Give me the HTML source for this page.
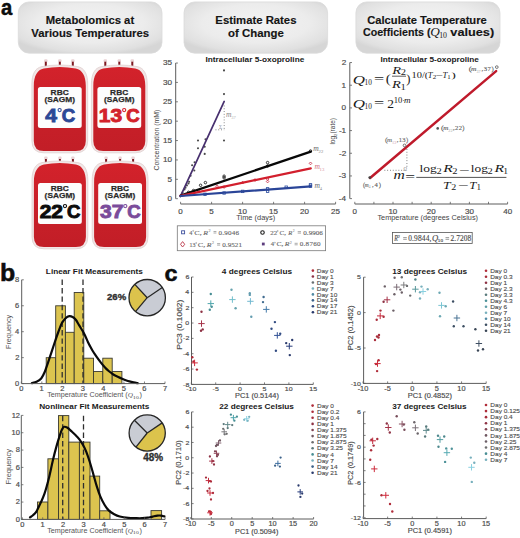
<!DOCTYPE html><html><head><meta charset="utf-8"><style>html,body{margin:0;padding:0;background:#fff;}svg{display:block;}</style></head><body>
<svg width="520" height="538" viewBox="0 0 520 538">
<defs>
<radialGradient id="hb" cx="50%" cy="42%" r="62%">
<stop offset="0" stop-color="#f3f3f3"/><stop offset="0.6" stop-color="#ececec"/><stop offset="0.9" stop-color="#e0e0e0"/><stop offset="1" stop-color="#d6d6d6"/>
</radialGradient>
<linearGradient id="bag" x1="0" y1="0" x2="0" y2="1">
<stop offset="0" stop-color="#d3222b"/><stop offset="0.45" stop-color="#ca2029"/><stop offset="1" stop-color="#c21e27"/>
</linearGradient>
</defs>
<rect width="520" height="538" fill="#fff"/>
<text x="0.99" y="15.48" textLength="11.23" lengthAdjust="spacingAndGlyphs" font-size="22.36" font-family='"Liberation Sans", sans-serif' font-weight="bold" font-style="normal" fill="#0d0d0d" stroke="#0d0d0d" stroke-width="0.5">a</text>
<text x="-0.12" y="280.97" textLength="15.24" lengthAdjust="spacingAndGlyphs" font-size="22.99" font-family='"Liberation Sans", sans-serif' font-weight="bold" font-style="normal" fill="#0d0d0d" stroke="#0d0d0d" stroke-width="0.5">b</text>
<text x="164.57" y="280.89" textLength="12.96" lengthAdjust="spacingAndGlyphs" font-size="21.45" font-family='"Liberation Sans", sans-serif' font-weight="bold" font-style="normal" fill="#0d0d0d" stroke="#0d0d0d" stroke-width="0.5">c</text>
<rect x="18.3" y="1.9" width="143.7" height="51.3" rx="11" ry="11" fill="url(#hb)" stroke="#dadada" stroke-width="0.8"/>
<rect x="184.0" y="1.9" width="143.60000000000002" height="51.3" rx="11" ry="11" fill="url(#hb)" stroke="#dadada" stroke-width="0.8"/>
<rect x="355.9" y="1.9" width="144.10000000000002" height="51.3" rx="11" ry="11" fill="url(#hb)" stroke="#dadada" stroke-width="0.8"/>
<text x="45.67" y="23.70" textLength="88.51" lengthAdjust="spacingAndGlyphs" font-size="11.40" font-family='"Liberation Sans", sans-serif' font-weight="bold" font-style="normal" fill="#151515" stroke="#151515" stroke-width="0.15">Metabolomics at</text>
<text x="31.34" y="36.90" textLength="117.71" lengthAdjust="spacingAndGlyphs" font-size="11.40" font-family='"Liberation Sans", sans-serif' font-weight="bold" font-style="normal" fill="#151515" stroke="#151515" stroke-width="0.15">Various Temperatures</text>
<text x="215.36" y="24.30" textLength="81.09" lengthAdjust="spacingAndGlyphs" font-size="11.40" font-family='"Liberation Sans", sans-serif' font-weight="bold" font-style="normal" fill="#151515" stroke="#151515" stroke-width="0.15">Estimate Rates</text>
<text x="228.04" y="36.90" textLength="55.74" lengthAdjust="spacingAndGlyphs" font-size="11.40" font-family='"Liberation Sans", sans-serif' font-weight="bold" font-style="normal" fill="#151515" stroke="#151515" stroke-width="0.15">of Change</text>
<text x="367.25" y="24.00" textLength="119.47" lengthAdjust="spacingAndGlyphs" font-size="11.40" font-family='"Liberation Sans", sans-serif' font-weight="bold" font-style="normal" fill="#151515" stroke="#151515" stroke-width="0.15">Calculate Temperature</text>
<text x="362.97" y="36.40" textLength="67.47" lengthAdjust="spacingAndGlyphs" font-size="11.40" font-family='"Liberation Sans", sans-serif' font-weight="bold" font-style="normal" fill="#151515" stroke="#151515" stroke-width="0.15">Coefficients (</text>
<text x="430.27" y="36.40" textLength="9.56" lengthAdjust="spacingAndGlyphs" font-size="12.40" font-family='"Liberation Serif", serif' font-weight="normal" font-style="italic" fill="#151515" >Q</text>
<text x="439.14" y="38.40" textLength="7.77" lengthAdjust="spacingAndGlyphs" font-size="8.20" font-family='"Liberation Serif", serif' font-weight="normal" font-style="normal" fill="#151515" >10</text>
<text x="450.34" y="36.40" textLength="43.85" lengthAdjust="spacingAndGlyphs" font-size="11.40" font-family='"Liberation Sans", sans-serif' font-weight="bold" font-style="normal" fill="#151515" stroke="#151515" stroke-width="0.15">values)</text>
<rect x="44.10" y="59.30" width="3.4" height="3" rx="1" fill="#e9d3d5"/>
<rect x="44.80" y="61.70" width="2" height="6.00" fill="#7e1820"/>
<rect x="58.10" y="59.30" width="3.4" height="3" rx="1" fill="#e9d3d5"/>
<rect x="58.80" y="61.70" width="2" height="6.00" fill="#7e1820"/>
<rect x="71.10" y="59.30" width="3.4" height="3" rx="1" fill="#e9d3d5"/>
<rect x="71.80" y="61.70" width="2" height="6.00" fill="#7e1820"/>
<path d="M31.90 84.00 C31.90 74.00 35.40 67.80 41.90 66.60 Q59.80 63.40 77.70 66.60 C84.20 67.80 87.70 74.00 87.70 84.00 L87.70 140.90 Q87.70 152.80 75.80 152.80 L43.80 152.80 Q31.90 152.80 31.90 140.90 Z" fill="#f1e6e6" stroke="#e0d0d0" stroke-width="0.8"/>
<path d="M33.80 85.90 C33.80 75.90 37.30 69.70 43.80 68.50 Q59.80 65.30 75.80 68.50 C82.30 69.70 85.80 75.90 85.80 85.90 L85.80 140.90 Q85.80 150.90 75.80 150.90 L43.80 150.90 Q33.80 150.90 33.80 140.90 Z" fill="url(#bag)"/>
<rect x="37.90" y="86.90" width="43.8" height="41.0" rx="2.5" fill="#fdfdfd"/>
<text x="50.63" y="95.20" textLength="18.02" lengthAdjust="spacingAndGlyphs" font-size="7.70" font-family='"Liberation Sans", sans-serif' font-weight="bold" font-style="normal" fill="#2a2a2a" stroke="#2a2a2a" stroke-width="0.25">RBC</text>
<text x="44.54" y="102.30" textLength="30.49" lengthAdjust="spacingAndGlyphs" font-size="7.70" font-family='"Liberation Sans", sans-serif' font-weight="bold" font-style="normal" fill="#2a2a2a" stroke="#2a2a2a" stroke-width="0.25">(SAGM)</text>
<text x="45.27" y="122.10" textLength="11.69" lengthAdjust="spacingAndGlyphs" font-size="18.60" font-family='"Liberation Sans", sans-serif' font-weight="bold" font-style="normal" fill="#2c4896" stroke="#2c4896" stroke-width="0.9">4</text>
<circle cx="59.63" cy="110.10" r="1.6" fill="none" stroke="#2c4896" stroke-width="1.1"/>
<text x="61.69" y="122.10" textLength="13.43" lengthAdjust="spacingAndGlyphs" font-size="18.60" font-family='"Liberation Sans", sans-serif' font-weight="bold" font-style="normal" fill="#2c4896" stroke="#2c4896" stroke-width="0.9">C</text>
<rect x="103.60" y="59.30" width="3.4" height="3" rx="1" fill="#e9d3d5"/>
<rect x="104.30" y="61.70" width="2" height="6.00" fill="#7e1820"/>
<rect x="117.60" y="59.30" width="3.4" height="3" rx="1" fill="#e9d3d5"/>
<rect x="118.30" y="61.70" width="2" height="6.00" fill="#7e1820"/>
<rect x="130.60" y="59.30" width="3.4" height="3" rx="1" fill="#e9d3d5"/>
<rect x="131.30" y="61.70" width="2" height="6.00" fill="#7e1820"/>
<path d="M91.40 84.00 C91.40 74.00 94.90 67.80 101.40 66.60 Q119.30 63.40 137.20 66.60 C143.70 67.80 147.20 74.00 147.20 84.00 L147.20 140.90 Q147.20 152.80 135.30 152.80 L103.30 152.80 Q91.40 152.80 91.40 140.90 Z" fill="#f1e6e6" stroke="#e0d0d0" stroke-width="0.8"/>
<path d="M93.30 85.90 C93.30 75.90 96.80 69.70 103.30 68.50 Q119.30 65.30 135.30 68.50 C141.80 69.70 145.30 75.90 145.30 85.90 L145.30 140.90 Q145.30 150.90 135.30 150.90 L103.30 150.90 Q93.30 150.90 93.30 140.90 Z" fill="url(#bag)"/>
<rect x="97.40" y="86.90" width="43.8" height="41.0" rx="2.5" fill="#fdfdfd"/>
<text x="110.13" y="95.20" textLength="18.02" lengthAdjust="spacingAndGlyphs" font-size="7.70" font-family='"Liberation Sans", sans-serif' font-weight="bold" font-style="normal" fill="#2a2a2a" stroke="#2a2a2a" stroke-width="0.25">RBC</text>
<text x="104.04" y="102.30" textLength="30.49" lengthAdjust="spacingAndGlyphs" font-size="7.70" font-family='"Liberation Sans", sans-serif' font-weight="bold" font-style="normal" fill="#2a2a2a" stroke="#2a2a2a" stroke-width="0.25">(SAGM)</text>
<text x="98.78" y="122.10" textLength="23.38" lengthAdjust="spacingAndGlyphs" font-size="18.60" font-family='"Liberation Sans", sans-serif' font-weight="bold" font-style="normal" fill="#d3222b" stroke="#d3222b" stroke-width="0.9">13</text>
<circle cx="124.18" cy="110.10" r="1.6" fill="none" stroke="#d3222b" stroke-width="1.1"/>
<text x="126.23" y="122.10" textLength="13.43" lengthAdjust="spacingAndGlyphs" font-size="18.60" font-family='"Liberation Sans", sans-serif' font-weight="bold" font-style="normal" fill="#d3222b" stroke="#d3222b" stroke-width="0.9">C</text>
<rect x="44.20" y="156.60" width="3.4" height="3" rx="1" fill="#e9d3d5"/>
<rect x="44.90" y="159.00" width="2" height="4.70" fill="#7e1820"/>
<rect x="58.20" y="156.60" width="3.4" height="3" rx="1" fill="#e9d3d5"/>
<rect x="58.90" y="159.00" width="2" height="4.70" fill="#7e1820"/>
<rect x="71.20" y="156.60" width="3.4" height="3" rx="1" fill="#e9d3d5"/>
<rect x="71.90" y="159.00" width="2" height="4.70" fill="#7e1820"/>
<path d="M32.00 180.00 C32.00 170.00 35.50 163.80 42.00 162.60 Q59.90 159.40 77.80 162.60 C84.30 163.80 87.80 170.00 87.80 180.00 L87.80 236.90 Q87.80 248.80 75.90 248.80 L43.90 248.80 Q32.00 248.80 32.00 236.90 Z" fill="#f1e6e6" stroke="#e0d0d0" stroke-width="0.8"/>
<path d="M33.90 181.90 C33.90 171.90 37.40 165.70 43.90 164.50 Q59.90 161.30 75.90 164.50 C82.40 165.70 85.90 171.90 85.90 181.90 L85.90 236.90 Q85.90 246.90 75.90 246.90 L43.90 246.90 Q33.90 246.90 33.90 236.90 Z" fill="url(#bag)"/>
<rect x="38.00" y="182.90" width="43.8" height="41.0" rx="2.5" fill="#fdfdfd"/>
<text x="50.73" y="191.20" textLength="18.02" lengthAdjust="spacingAndGlyphs" font-size="7.70" font-family='"Liberation Sans", sans-serif' font-weight="bold" font-style="normal" fill="#2a2a2a" stroke="#2a2a2a" stroke-width="0.25">RBC</text>
<text x="44.64" y="198.30" textLength="30.49" lengthAdjust="spacingAndGlyphs" font-size="7.70" font-family='"Liberation Sans", sans-serif' font-weight="bold" font-style="normal" fill="#2a2a2a" stroke="#2a2a2a" stroke-width="0.25">(SAGM)</text>
<text x="39.70" y="218.10" textLength="23.38" lengthAdjust="spacingAndGlyphs" font-size="18.60" font-family='"Liberation Sans", sans-serif' font-weight="bold" font-style="normal" fill="#0b0b0b" stroke="#0b0b0b" stroke-width="0.9">22</text>
<circle cx="64.99" cy="206.10" r="1.6" fill="none" stroke="#0b0b0b" stroke-width="1.1"/>
<text x="67.04" y="218.10" textLength="13.43" lengthAdjust="spacingAndGlyphs" font-size="18.60" font-family='"Liberation Sans", sans-serif' font-weight="bold" font-style="normal" fill="#0b0b0b" stroke="#0b0b0b" stroke-width="0.9">C</text>
<rect x="104.40" y="156.60" width="3.4" height="3" rx="1" fill="#e9d3d5"/>
<rect x="105.10" y="159.00" width="2" height="4.70" fill="#7e1820"/>
<rect x="118.40" y="156.60" width="3.4" height="3" rx="1" fill="#e9d3d5"/>
<rect x="119.10" y="159.00" width="2" height="4.70" fill="#7e1820"/>
<rect x="131.40" y="156.60" width="3.4" height="3" rx="1" fill="#e9d3d5"/>
<rect x="132.10" y="159.00" width="2" height="4.70" fill="#7e1820"/>
<path d="M92.20 180.00 C92.20 170.00 95.70 163.80 102.20 162.60 Q120.10 159.40 138.00 162.60 C144.50 163.80 148.00 170.00 148.00 180.00 L148.00 236.90 Q148.00 248.80 136.10 248.80 L104.10 248.80 Q92.20 248.80 92.20 236.90 Z" fill="#f1e6e6" stroke="#e0d0d0" stroke-width="0.8"/>
<path d="M94.10 181.90 C94.10 171.90 97.60 165.70 104.10 164.50 Q120.10 161.30 136.10 164.50 C142.60 165.70 146.10 171.90 146.10 181.90 L146.10 236.90 Q146.10 246.90 136.10 246.90 L104.10 246.90 Q94.10 246.90 94.10 236.90 Z" fill="url(#bag)"/>
<rect x="98.20" y="182.90" width="43.8" height="41.0" rx="2.5" fill="#fdfdfd"/>
<text x="110.93" y="191.20" textLength="18.02" lengthAdjust="spacingAndGlyphs" font-size="7.70" font-family='"Liberation Sans", sans-serif' font-weight="bold" font-style="normal" fill="#2a2a2a" stroke="#2a2a2a" stroke-width="0.25">RBC</text>
<text x="104.84" y="198.30" textLength="30.49" lengthAdjust="spacingAndGlyphs" font-size="7.70" font-family='"Liberation Sans", sans-serif' font-weight="bold" font-style="normal" fill="#2a2a2a" stroke="#2a2a2a" stroke-width="0.25">(SAGM)</text>
<text x="100.00" y="218.10" textLength="23.38" lengthAdjust="spacingAndGlyphs" font-size="18.60" font-family='"Liberation Sans", sans-serif' font-weight="bold" font-style="normal" fill="#7a4b9a" stroke="#7a4b9a" stroke-width="0.9">37</text>
<circle cx="125.29" cy="206.10" r="1.6" fill="none" stroke="#7a4b9a" stroke-width="1.1"/>
<text x="127.35" y="218.10" textLength="13.43" lengthAdjust="spacingAndGlyphs" font-size="18.60" font-family='"Liberation Sans", sans-serif' font-weight="bold" font-style="normal" fill="#7a4b9a" stroke="#7a4b9a" stroke-width="0.9">C</text>
<line x1="175.70" y1="63.04" x2="175.70" y2="198.70" stroke="#5c5c5c" stroke-width="1" />
<line x1="175.70" y1="198.70" x2="177.90" y2="198.70" stroke="#5c5c5c" stroke-width="0.8" />
<text x="167.55" y="201.15" textLength="4.54" lengthAdjust="spacingAndGlyphs" font-size="7.10" font-family='"Liberation Sans", sans-serif' font-weight="normal" font-style="normal" fill="#4e4e4e" stroke="#4e4e4e" stroke-width="0.18">0</text>
<line x1="175.70" y1="179.32" x2="177.90" y2="179.32" stroke="#5c5c5c" stroke-width="0.8" />
<text x="167.59" y="181.77" textLength="4.54" lengthAdjust="spacingAndGlyphs" font-size="7.10" font-family='"Liberation Sans", sans-serif' font-weight="normal" font-style="normal" fill="#4e4e4e" stroke="#4e4e4e" stroke-width="0.18">5</text>
<line x1="175.70" y1="159.94" x2="177.90" y2="159.94" stroke="#5c5c5c" stroke-width="0.8" />
<text x="163.02" y="162.39" textLength="9.08" lengthAdjust="spacingAndGlyphs" font-size="7.10" font-family='"Liberation Sans", sans-serif' font-weight="normal" font-style="normal" fill="#4e4e4e" stroke="#4e4e4e" stroke-width="0.18">10</text>
<line x1="175.70" y1="140.56" x2="177.90" y2="140.56" stroke="#5c5c5c" stroke-width="0.8" />
<text x="163.06" y="143.01" textLength="9.08" lengthAdjust="spacingAndGlyphs" font-size="7.10" font-family='"Liberation Sans", sans-serif' font-weight="normal" font-style="normal" fill="#4e4e4e" stroke="#4e4e4e" stroke-width="0.18">15</text>
<line x1="175.70" y1="121.18" x2="177.90" y2="121.18" stroke="#5c5c5c" stroke-width="0.8" />
<text x="163.02" y="123.63" textLength="9.08" lengthAdjust="spacingAndGlyphs" font-size="7.10" font-family='"Liberation Sans", sans-serif' font-weight="normal" font-style="normal" fill="#4e4e4e" stroke="#4e4e4e" stroke-width="0.18">20</text>
<line x1="175.70" y1="101.80" x2="177.90" y2="101.80" stroke="#5c5c5c" stroke-width="0.8" />
<text x="163.06" y="104.25" textLength="9.08" lengthAdjust="spacingAndGlyphs" font-size="7.10" font-family='"Liberation Sans", sans-serif' font-weight="normal" font-style="normal" fill="#4e4e4e" stroke="#4e4e4e" stroke-width="0.18">25</text>
<line x1="175.70" y1="82.42" x2="177.90" y2="82.42" stroke="#5c5c5c" stroke-width="0.8" />
<text x="163.02" y="84.87" textLength="9.08" lengthAdjust="spacingAndGlyphs" font-size="7.10" font-family='"Liberation Sans", sans-serif' font-weight="normal" font-style="normal" fill="#4e4e4e" stroke="#4e4e4e" stroke-width="0.18">30</text>
<line x1="175.70" y1="63.04" x2="177.90" y2="63.04" stroke="#5c5c5c" stroke-width="0.8" />
<text x="163.06" y="65.49" textLength="9.08" lengthAdjust="spacingAndGlyphs" font-size="7.10" font-family='"Liberation Sans", sans-serif' font-weight="normal" font-style="normal" fill="#4e4e4e" stroke="#4e4e4e" stroke-width="0.18">35</text>
<line x1="180.60" y1="204.00" x2="335.60" y2="204.00" stroke="#5c5c5c" stroke-width="1" />
<line x1="180.60" y1="204.00" x2="180.60" y2="201.80" stroke="#5c5c5c" stroke-width="0.8" />
<text x="178.36" y="214.00" textLength="4.45" lengthAdjust="spacingAndGlyphs" font-size="6.96" font-family='"Liberation Sans", sans-serif' font-weight="normal" font-style="normal" fill="#4e4e4e" stroke="#4e4e4e" stroke-width="0.18">0</text>
<line x1="211.60" y1="204.00" x2="211.60" y2="201.80" stroke="#5c5c5c" stroke-width="0.8" />
<text x="209.38" y="214.00" textLength="4.45" lengthAdjust="spacingAndGlyphs" font-size="6.96" font-family='"Liberation Sans", sans-serif' font-weight="normal" font-style="normal" fill="#4e4e4e" stroke="#4e4e4e" stroke-width="0.18">5</text>
<line x1="242.60" y1="204.00" x2="242.60" y2="201.80" stroke="#5c5c5c" stroke-width="0.8" />
<text x="238.00" y="214.00" textLength="8.90" lengthAdjust="spacingAndGlyphs" font-size="6.96" font-family='"Liberation Sans", sans-serif' font-weight="normal" font-style="normal" fill="#4e4e4e" stroke="#4e4e4e" stroke-width="0.18">10</text>
<line x1="273.60" y1="204.00" x2="273.60" y2="201.80" stroke="#5c5c5c" stroke-width="0.8" />
<text x="269.02" y="214.00" textLength="8.90" lengthAdjust="spacingAndGlyphs" font-size="6.96" font-family='"Liberation Sans", sans-serif' font-weight="normal" font-style="normal" fill="#4e4e4e" stroke="#4e4e4e" stroke-width="0.18">15</text>
<line x1="304.60" y1="204.00" x2="304.60" y2="201.80" stroke="#5c5c5c" stroke-width="0.8" />
<text x="300.10" y="214.00" textLength="8.90" lengthAdjust="spacingAndGlyphs" font-size="6.96" font-family='"Liberation Sans", sans-serif' font-weight="normal" font-style="normal" fill="#4e4e4e" stroke="#4e4e4e" stroke-width="0.18">20</text>
<line x1="335.60" y1="204.00" x2="335.60" y2="201.80" stroke="#5c5c5c" stroke-width="0.8" />
<text x="331.12" y="214.00" textLength="8.90" lengthAdjust="spacingAndGlyphs" font-size="6.96" font-family='"Liberation Sans", sans-serif' font-weight="normal" font-style="normal" fill="#4e4e4e" stroke="#4e4e4e" stroke-width="0.18">25</text>
<text x="236.25" y="219.80" textLength="38.90" lengthAdjust="spacingAndGlyphs" font-size="6.60" font-family='"Liberation Sans", sans-serif' font-weight="normal" font-style="normal" fill="#444" >Time (days)</text>
<text transform="translate(158.98,170.10) rotate(-90)" x="-0.34" y="0" textLength="60.66" lengthAdjust="spacingAndGlyphs" font-size="6.60" font-family='"Liberation Sans", sans-serif' font-weight="normal" font-style="normal" fill="#444" >Concentration (mM)</text>
<text x="205.46" y="62.20" textLength="98.85" lengthAdjust="spacingAndGlyphs" font-size="8.00" font-family='"Liberation Sans", sans-serif' font-weight="bold" font-style="normal" fill="#1a1a1a" >Intracellular 5-oxoproline</text>
<circle cx="198.00" cy="140.50" r="1.05" fill="#4a4a4a"/>
<circle cx="198.00" cy="148.20" r="1.05" fill="#4a4a4a"/>
<circle cx="205.50" cy="139.30" r="1.05" fill="#4a4a4a"/>
<circle cx="204.70" cy="146.70" r="1.05" fill="#4a4a4a"/>
<circle cx="204.70" cy="153.90" r="1.05" fill="#4a4a4a"/>
<circle cx="194.60" cy="162.30" r="1.05" fill="#4a4a4a"/>
<circle cx="192.10" cy="165.30" r="1.05" fill="#4a4a4a"/>
<circle cx="194.30" cy="170.50" r="1.05" fill="#4a4a4a"/>
<circle cx="190.60" cy="175.70" r="1.05" fill="#4a4a4a"/>
<circle cx="189.10" cy="181.70" r="1.05" fill="#4a4a4a"/>
<circle cx="186.90" cy="185.40" r="1.05" fill="#4a4a4a"/>
<circle cx="184.50" cy="189.50" r="1.05" fill="#4a4a4a"/>
<circle cx="182.50" cy="192.50" r="1.05" fill="#4a4a4a"/>
<circle cx="224.00" cy="70.40" r="1.05" fill="#4a4a4a"/>
<circle cx="224.00" cy="94.10" r="1.05" fill="#4a4a4a"/>
<circle cx="224.00" cy="140.50" r="1.05" fill="#4a4a4a"/>
<circle cx="185.50" cy="187.80" r="1.05" fill="#4a4a4a"/>
<circle cx="188.50" cy="183.50" r="1.05" fill="#4a4a4a"/>
<circle cx="200.6" cy="185.3" r="1.25" fill="none" stroke="#222" stroke-width="0.9"/>
<circle cx="205.4" cy="182.6" r="1.25" fill="none" stroke="#222" stroke-width="0.9"/>
<circle cx="224.1" cy="177.8" r="1.25" fill="none" stroke="#222" stroke-width="0.9"/>
<circle cx="224.1" cy="176.2" r="1.25" fill="none" stroke="#222" stroke-width="0.9"/>
<circle cx="267.6" cy="162.6" r="1.25" fill="none" stroke="#222" stroke-width="0.9"/>
<circle cx="267.6" cy="166.0" r="1.25" fill="none" stroke="#222" stroke-width="0.9"/>
<circle cx="310.5" cy="151.0" r="1.25" fill="none" stroke="#222" stroke-width="0.9"/>
<circle cx="193.5" cy="190.5" r="1.25" fill="none" stroke="#222" stroke-width="0.9"/>
<circle cx="188.5" cy="192.3" r="1.25" fill="none" stroke="#222" stroke-width="0.9"/>
<path d="M217.0 184.79999999999998L218.3 186.2L217.0 187.6L215.7 186.2Z" fill="none" stroke="#c8304a" stroke-width="0.85"/>
<path d="M224.1 185.6L225.4 187.0L224.1 188.4L222.79999999999998 187.0Z" fill="none" stroke="#c8304a" stroke-width="0.85"/>
<path d="M242.7 181.2L244.0 182.6L242.7 184.0L241.39999999999998 182.6Z" fill="none" stroke="#c8304a" stroke-width="0.85"/>
<path d="M267.6 180.1L268.90000000000003 181.5L267.6 182.9L266.3 181.5Z" fill="none" stroke="#c8304a" stroke-width="0.85"/>
<path d="M267.6 177.6L268.90000000000003 179.0L267.6 180.4L266.3 179.0Z" fill="none" stroke="#c8304a" stroke-width="0.85"/>
<path d="M310.5 162.0L311.8 163.4L310.5 164.8L309.2 163.4Z" fill="none" stroke="#c8304a" stroke-width="0.85"/>
<path d="M255.0 178.6L256.3 180.0L255.0 181.4L253.7 180.0Z" fill="none" stroke="#c8304a" stroke-width="0.85"/>
<path d="M198 189.1L199.3 190.5L198 191.9L196.7 190.5Z" fill="none" stroke="#c8304a" stroke-width="0.85"/>
<rect x="222.9" y="191.8" width="2.4" height="2.4" fill="none" stroke="#3050a0" stroke-width="0.85"/>
<rect x="241.5" y="190.20000000000002" width="2.4" height="2.4" fill="none" stroke="#3050a0" stroke-width="0.85"/>
<rect x="266.40000000000003" y="190.0" width="2.4" height="2.4" fill="none" stroke="#3050a0" stroke-width="0.85"/>
<rect x="266.40000000000003" y="187.60000000000002" width="2.4" height="2.4" fill="none" stroke="#3050a0" stroke-width="0.85"/>
<rect x="285.0" y="186.0" width="2.4" height="2.4" fill="none" stroke="#3050a0" stroke-width="0.85"/>
<rect x="309.3" y="185.0" width="2.4" height="2.4" fill="none" stroke="#3050a0" stroke-width="0.85"/>
<rect x="309.3" y="183.60000000000002" width="2.4" height="2.4" fill="none" stroke="#3050a0" stroke-width="0.85"/>
<rect x="203.8" y="193.10000000000002" width="2.4" height="2.4" fill="none" stroke="#3050a0" stroke-width="0.85"/>
<line x1="180.30" y1="196.60" x2="224.20" y2="101.40" stroke="#48306f" stroke-width="1.7" stroke-linecap="round"/>
<line x1="180.50" y1="195.60" x2="310.80" y2="151.60" stroke="#080808" stroke-width="2.3" stroke-linecap="round"/>
<line x1="180.50" y1="195.80" x2="310.80" y2="168.40" stroke="#d21f2d" stroke-width="2.2" stroke-linecap="round"/>
<line x1="180.50" y1="196.00" x2="310.80" y2="186.30" stroke="#2a4598" stroke-width="2.2" stroke-linecap="round"/>
<line x1="224.20" y1="105.50" x2="224.20" y2="130.00" stroke="#707070" stroke-width="0.9" stroke-dasharray="0.9,1.9"/>
<line x1="215.50" y1="129.80" x2="224.20" y2="129.80" stroke="#707070" stroke-width="0.9" stroke-dasharray="0.9,1.9"/>
<text x="225.93" y="116.60" textLength="5.49" lengthAdjust="spacingAndGlyphs" font-size="7.60" font-family='"Liberation Serif", serif' font-weight="normal" font-style="italic" fill="#8a8a8a" >m</text>
<text x="231.20" y="118.70" textLength="4.54" lengthAdjust="spacingAndGlyphs" font-size="4.60" font-family='"Liberation Serif", serif' font-weight="normal" font-style="normal" fill="#b0b0b0" >37</text>
<text x="219.0" y="129.0" font-size="5.50" font-family='"Liberation Serif", serif' font-weight="normal" font-style="normal" fill="#999" >Σ</text>
<text x="313.33" y="150.60" textLength="5.49" lengthAdjust="spacingAndGlyphs" font-size="7.60" font-family='"Liberation Serif", serif' font-weight="normal" font-style="italic" fill="#6a6a6a" >m</text>
<text x="318.59" y="152.70" textLength="4.67" lengthAdjust="spacingAndGlyphs" font-size="4.60" font-family='"Liberation Serif", serif' font-weight="normal" font-style="normal" fill="#8a8a8a" >22</text>
<text x="314.43" y="169.00" textLength="5.49" lengthAdjust="spacingAndGlyphs" font-size="7.60" font-family='"Liberation Serif", serif' font-weight="normal" font-style="italic" fill="#d27080" >m</text>
<text x="319.49" y="171.10" textLength="4.80" lengthAdjust="spacingAndGlyphs" font-size="4.60" font-family='"Liberation Serif", serif' font-weight="normal" font-style="normal" fill="#d890a0" >13</text>
<text x="314.43" y="187.60" textLength="5.49" lengthAdjust="spacingAndGlyphs" font-size="7.60" font-family='"Liberation Serif", serif' font-weight="normal" font-style="italic" fill="#6a6a6a" >m</text>
<text x="319.81" y="189.70" textLength="2.26" lengthAdjust="spacingAndGlyphs" font-size="4.60" font-family='"Liberation Serif", serif' font-weight="normal" font-style="normal" fill="#8a8a8a" >4</text>
<rect x="177.3" y="225.8" width="148.3" height="24.9" fill="#fff" stroke="#7a7a7a" stroke-width="0.8"/>
<rect x="181.6" y="230.8" width="3.0" height="3.0" fill="none" stroke="#3d4f9c" stroke-width="0.9"/>
<path d="M182.6 241.6L184.7 244.3L182.6 247.0L180.5 244.3Z" fill="none" stroke="#c24a5a" stroke-width="1.0"/>
<circle cx="262.5" cy="232.5" r="1.75" fill="none" stroke="#1a1a1a" stroke-width="1.1"/>
<rect x="261.9" y="242.6" width="2.8" height="2.8" fill="#5d3d7e"/>
<text x="189.18" y="234.60" textLength="3.12" lengthAdjust="spacingAndGlyphs" font-size="6.30" font-family='"Liberation Serif", serif' font-weight="normal" font-style="normal" fill="#666" stroke="#666" stroke-width="0.12">4</text>
<circle cx="193.20" cy="230.90" r="0.55" fill="none" stroke="#666" stroke-width="0.4"/>
<text x="194.38" y="234.60" textLength="7.36" lengthAdjust="spacingAndGlyphs" font-size="6.30" font-family='"Liberation Serif", serif' font-weight="normal" font-style="normal" fill="#666" stroke="#666" stroke-width="0.12">C,</text>
<text x="203.34" y="234.60" textLength="4.68" lengthAdjust="spacingAndGlyphs" font-size="6.30" font-family='"Liberation Serif", serif' font-weight="normal" font-style="italic" fill="#666" stroke="#666" stroke-width="0.12">R</text>
<text x="208.41" y="232.30" textLength="2.13" lengthAdjust="spacingAndGlyphs" font-size="4.00" font-family='"Liberation Serif", serif' font-weight="normal" font-style="normal" fill="#666" >2</text>
<line x1="213.50" y1="231.50" x2="216.40" y2="231.50" stroke="#666" stroke-width="0.55" />
<line x1="213.50" y1="233.00" x2="216.40" y2="233.00" stroke="#666" stroke-width="0.55" />
<text x="218.62" y="234.60" textLength="20.50" lengthAdjust="spacing" font-size="7.10" font-family='"Liberation Serif", serif' font-weight="normal" font-style="normal" fill="#666" stroke="#666" stroke-width="0.12">0.9046</text>
<text x="189.59" y="246.70" textLength="5.94" lengthAdjust="spacingAndGlyphs" font-size="6.30" font-family='"Liberation Serif", serif' font-weight="normal" font-style="normal" fill="#666" stroke="#666" stroke-width="0.12">13</text>
<circle cx="196.20" cy="243.00" r="0.55" fill="none" stroke="#666" stroke-width="0.4"/>
<text x="197.87" y="246.70" textLength="7.47" lengthAdjust="spacingAndGlyphs" font-size="6.30" font-family='"Liberation Serif", serif' font-weight="normal" font-style="normal" fill="#666" stroke="#666" stroke-width="0.12">C,</text>
<text x="206.74" y="246.70" textLength="4.68" lengthAdjust="spacingAndGlyphs" font-size="6.30" font-family='"Liberation Serif", serif' font-weight="normal" font-style="italic" fill="#666" stroke="#666" stroke-width="0.12">R</text>
<text x="211.92" y="244.40" textLength="2.00" lengthAdjust="spacingAndGlyphs" font-size="4.00" font-family='"Liberation Serif", serif' font-weight="normal" font-style="normal" fill="#666" >2</text>
<line x1="217.10" y1="243.60" x2="220.20" y2="243.60" stroke="#666" stroke-width="0.55" />
<line x1="217.10" y1="245.10" x2="220.20" y2="245.10" stroke="#666" stroke-width="0.55" />
<text x="222.22" y="246.70" textLength="19.71" lengthAdjust="spacing" font-size="7.10" font-family='"Liberation Serif", serif' font-weight="normal" font-style="normal" fill="#666" stroke="#666" stroke-width="0.12">0.9521</text>
<text x="270.19" y="234.70" textLength="6.89" lengthAdjust="spacingAndGlyphs" font-size="6.30" font-family='"Liberation Serif", serif' font-weight="normal" font-style="normal" fill="#666" stroke="#666" stroke-width="0.12">22</text>
<circle cx="277.70" cy="231.00" r="0.55" fill="none" stroke="#666" stroke-width="0.4"/>
<text x="279.52" y="234.70" textLength="6.45" lengthAdjust="spacingAndGlyphs" font-size="6.30" font-family='"Liberation Serif", serif' font-weight="normal" font-style="normal" fill="#666" stroke="#666" stroke-width="0.12">C,</text>
<text x="288.33" y="234.70" textLength="3.97" lengthAdjust="spacingAndGlyphs" font-size="6.30" font-family='"Liberation Serif", serif' font-weight="normal" font-style="italic" fill="#666" stroke="#666" stroke-width="0.12">R</text>
<text x="292.63" y="232.40" textLength="1.88" lengthAdjust="spacingAndGlyphs" font-size="4.00" font-family='"Liberation Serif", serif' font-weight="normal" font-style="normal" fill="#666" >2</text>
<line x1="297.70" y1="231.60" x2="301.00" y2="231.60" stroke="#666" stroke-width="0.55" />
<line x1="297.70" y1="233.10" x2="301.00" y2="233.10" stroke="#666" stroke-width="0.55" />
<text x="303.32" y="234.70" textLength="19.50" lengthAdjust="spacing" font-size="7.10" font-family='"Liberation Serif", serif' font-weight="normal" font-style="normal" fill="#666" stroke="#666" stroke-width="0.12">0.9906</text>
<text x="270.67" y="246.40" textLength="3.33" lengthAdjust="spacingAndGlyphs" font-size="6.30" font-family='"Liberation Serif", serif' font-weight="normal" font-style="normal" fill="#666" stroke="#666" stroke-width="0.12">4</text>
<circle cx="274.90" cy="242.70" r="0.55" fill="none" stroke="#666" stroke-width="0.4"/>
<text x="276.40" y="246.40" textLength="6.91" lengthAdjust="spacingAndGlyphs" font-size="6.30" font-family='"Liberation Serif", serif' font-weight="normal" font-style="normal" fill="#666" stroke="#666" stroke-width="0.12">C,</text>
<text x="284.74" y="246.40" textLength="4.58" lengthAdjust="spacingAndGlyphs" font-size="6.30" font-family='"Liberation Serif", serif' font-weight="normal" font-style="italic" fill="#666" stroke="#666" stroke-width="0.12">R</text>
<text x="289.72" y="244.10" textLength="2.00" lengthAdjust="spacingAndGlyphs" font-size="4.00" font-family='"Liberation Serif", serif' font-weight="normal" font-style="normal" fill="#666" >2</text>
<line x1="294.60" y1="243.30" x2="297.70" y2="243.30" stroke="#666" stroke-width="0.55" />
<line x1="294.60" y1="244.80" x2="297.70" y2="244.80" stroke="#666" stroke-width="0.55" />
<text x="299.82" y="246.40" textLength="20.67" lengthAdjust="spacing" font-size="7.10" font-family='"Liberation Serif", serif' font-weight="normal" font-style="normal" fill="#666" stroke="#666" stroke-width="0.12">0.8760</text>
<line x1="349.80" y1="62.54" x2="349.80" y2="198.62" stroke="#5c5c5c" stroke-width="1" />
<line x1="349.80" y1="198.62" x2="352.00" y2="198.62" stroke="#5c5c5c" stroke-width="0.8" />
<text x="338.78" y="201.07" textLength="7.26" lengthAdjust="spacingAndGlyphs" font-size="7.10" font-family='"Liberation Sans", sans-serif' font-weight="normal" font-style="normal" fill="#4e4e4e" stroke="#4e4e4e" stroke-width="0.18">-4</text>
<line x1="349.80" y1="175.94" x2="352.00" y2="175.94" stroke="#5c5c5c" stroke-width="0.8" />
<text x="338.86" y="178.39" textLength="7.26" lengthAdjust="spacingAndGlyphs" font-size="7.10" font-family='"Liberation Sans", sans-serif' font-weight="normal" font-style="normal" fill="#4e4e4e" stroke="#4e4e4e" stroke-width="0.18">-3</text>
<line x1="349.80" y1="153.26" x2="352.00" y2="153.26" stroke="#5c5c5c" stroke-width="0.8" />
<text x="338.94" y="155.71" textLength="7.26" lengthAdjust="spacingAndGlyphs" font-size="7.10" font-family='"Liberation Sans", sans-serif' font-weight="normal" font-style="normal" fill="#4e4e4e" stroke="#4e4e4e" stroke-width="0.18">-2</text>
<line x1="349.80" y1="130.58" x2="352.00" y2="130.58" stroke="#5c5c5c" stroke-width="0.8" />
<text x="338.90" y="133.03" textLength="7.26" lengthAdjust="spacingAndGlyphs" font-size="7.10" font-family='"Liberation Sans", sans-serif' font-weight="normal" font-style="normal" fill="#4e4e4e" stroke="#4e4e4e" stroke-width="0.18">-1</text>
<line x1="349.80" y1="107.90" x2="352.00" y2="107.90" stroke="#5c5c5c" stroke-width="0.8" />
<text x="341.55" y="110.35" textLength="4.54" lengthAdjust="spacingAndGlyphs" font-size="7.10" font-family='"Liberation Sans", sans-serif' font-weight="normal" font-style="normal" fill="#4e4e4e" stroke="#4e4e4e" stroke-width="0.18">0</text>
<line x1="349.80" y1="85.22" x2="352.00" y2="85.22" stroke="#5c5c5c" stroke-width="0.8" />
<text x="341.63" y="87.67" textLength="4.54" lengthAdjust="spacingAndGlyphs" font-size="7.10" font-family='"Liberation Sans", sans-serif' font-weight="normal" font-style="normal" fill="#4e4e4e" stroke="#4e4e4e" stroke-width="0.18">1</text>
<line x1="349.80" y1="62.54" x2="352.00" y2="62.54" stroke="#5c5c5c" stroke-width="0.8" />
<text x="341.68" y="64.99" textLength="4.54" lengthAdjust="spacingAndGlyphs" font-size="7.10" font-family='"Liberation Sans", sans-serif' font-weight="normal" font-style="normal" fill="#4e4e4e" stroke="#4e4e4e" stroke-width="0.18">2</text>
<line x1="354.80" y1="204.00" x2="507.60" y2="204.00" stroke="#5c5c5c" stroke-width="1" />
<line x1="354.80" y1="204.00" x2="354.80" y2="201.80" stroke="#5c5c5c" stroke-width="0.8" />
<line x1="373.90" y1="204.00" x2="373.90" y2="201.80" stroke="#5c5c5c" stroke-width="0.8" />
<line x1="393.00" y1="204.00" x2="393.00" y2="201.80" stroke="#5c5c5c" stroke-width="0.8" />
<line x1="412.10" y1="204.00" x2="412.10" y2="201.80" stroke="#5c5c5c" stroke-width="0.8" />
<line x1="431.20" y1="204.00" x2="431.20" y2="201.80" stroke="#5c5c5c" stroke-width="0.8" />
<line x1="450.30" y1="204.00" x2="450.30" y2="201.80" stroke="#5c5c5c" stroke-width="0.8" />
<line x1="469.40" y1="204.00" x2="469.40" y2="201.80" stroke="#5c5c5c" stroke-width="0.8" />
<line x1="488.50" y1="204.00" x2="488.50" y2="201.80" stroke="#5c5c5c" stroke-width="0.8" />
<line x1="507.60" y1="204.00" x2="507.60" y2="201.80" stroke="#5c5c5c" stroke-width="0.8" />
<text x="352.56" y="214.00" textLength="4.45" lengthAdjust="spacingAndGlyphs" font-size="6.96" font-family='"Liberation Sans", sans-serif' font-weight="normal" font-style="normal" fill="#4e4e4e" stroke="#4e4e4e" stroke-width="0.18">0</text>
<text x="388.40" y="214.00" textLength="8.90" lengthAdjust="spacingAndGlyphs" font-size="6.96" font-family='"Liberation Sans", sans-serif' font-weight="normal" font-style="normal" fill="#4e4e4e" stroke="#4e4e4e" stroke-width="0.18">10</text>
<text x="426.70" y="214.00" textLength="8.90" lengthAdjust="spacingAndGlyphs" font-size="6.96" font-family='"Liberation Sans", sans-serif' font-weight="normal" font-style="normal" fill="#4e4e4e" stroke="#4e4e4e" stroke-width="0.18">20</text>
<text x="464.94" y="214.00" textLength="8.90" lengthAdjust="spacingAndGlyphs" font-size="6.96" font-family='"Liberation Sans", sans-serif' font-weight="normal" font-style="normal" fill="#4e4e4e" stroke="#4e4e4e" stroke-width="0.18">30</text>
<text x="503.22" y="214.00" textLength="8.90" lengthAdjust="spacingAndGlyphs" font-size="6.96" font-family='"Liberation Sans", sans-serif' font-weight="normal" font-style="normal" fill="#4e4e4e" stroke="#4e4e4e" stroke-width="0.18">40</text>
<text x="377.45" y="219.90" textLength="100.61" lengthAdjust="spacingAndGlyphs" font-size="6.60" font-family='"Liberation Sans", sans-serif' font-weight="normal" font-style="normal" fill="#444" >Temperature (degrees Celsius)</text>
<text transform="translate(335.3,144.6) rotate(-90)" font-size="6.50" font-family='"Liberation Sans", sans-serif' font-weight="normal" font-style="normal" fill="#444" >log<tspan font-size="4.2" dy="1.6">2</tspan><tspan dy="-1.6">(rate)</tspan></text>
<text x="380.46" y="62.20" textLength="98.44" lengthAdjust="spacingAndGlyphs" font-size="8.00" font-family='"Liberation Sans", sans-serif' font-weight="bold" font-style="normal" fill="#1a1a1a" >Intracellular 5-oxoproline</text>
<line x1="370.08" y1="177.98" x2="496.14" y2="71.16" stroke="#bf1a2b" stroke-width="2.5" stroke-linecap="round"/>
<circle cx="496.8" cy="67.1" r="1.35" fill="#fff" stroke="#555" stroke-width="0.8"/>
<circle cx="437.7" cy="128.4" r="1.3" fill="#555"/>
<circle cx="404.5" cy="145.4" r="1.35" fill="#fff" stroke="#555" stroke-width="0.8"/>
<circle cx="369.8" cy="177.6" r="1.4" fill="#444"/>
<line x1="406.90" y1="149.00" x2="406.90" y2="168.00" stroke="#6a6a6a" stroke-width="0.9" stroke-dasharray="0.9,1.9"/>
<line x1="384.40" y1="170.30" x2="402.50" y2="170.30" stroke="#6a6a6a" stroke-width="0.9" stroke-dasharray="0.9,1.9"/>
<text x="403.2" y="170.6" font-size="5.20" font-family='"Liberation Serif", serif' font-weight="normal" font-style="italic" fill="#888" >Ω</text>
<text x="468.72" y="71.30" textLength="2.84" lengthAdjust="spacingAndGlyphs" font-size="6.60" font-family='"Liberation Serif", serif' font-weight="normal" font-style="normal" fill="#585858" stroke="#585858" stroke-width="0.12">(</text>
<text x="471.02" y="71.30" textLength="5.42" lengthAdjust="spacingAndGlyphs" font-size="6.60" font-family='"Liberation Serif", serif' font-weight="normal" font-style="italic" fill="#585858" stroke="#585858" stroke-width="0.12">m</text>
<text x="476.42" y="72.90" textLength="4.11" lengthAdjust="spacingAndGlyphs" font-size="3.80" font-family='"Liberation Serif", serif' font-weight="normal" font-style="normal" fill="#a0a0a0" >37</text>
<text x="481.42" y="71.30" textLength="12.16" lengthAdjust="spacing" font-size="6.60" font-family='"Liberation Serif", serif' font-weight="normal" font-style="normal" fill="#585858" stroke="#585858" stroke-width="0.12">,37)</text>
<text x="441.14" y="129.90" textLength="2.67" lengthAdjust="spacingAndGlyphs" font-size="6.60" font-family='"Liberation Serif", serif' font-weight="normal" font-style="normal" fill="#585858" stroke="#585858" stroke-width="0.12">(</text>
<text x="443.30" y="129.90" textLength="5.08" lengthAdjust="spacingAndGlyphs" font-size="6.60" font-family='"Liberation Serif", serif' font-weight="normal" font-style="italic" fill="#585858" stroke="#585858" stroke-width="0.12">m</text>
<text x="448.35" y="131.50" textLength="4.22" lengthAdjust="spacingAndGlyphs" font-size="3.80" font-family='"Liberation Serif", serif' font-weight="normal" font-style="normal" fill="#a0a0a0" >22</text>
<text x="453.04" y="129.90" textLength="11.44" lengthAdjust="spacing" font-size="6.60" font-family='"Liberation Serif", serif' font-weight="normal" font-style="normal" fill="#585858" stroke="#585858" stroke-width="0.12">,22)</text>
<text x="384.94" y="142.00" textLength="2.64" lengthAdjust="spacingAndGlyphs" font-size="6.60" font-family='"Liberation Serif", serif' font-weight="normal" font-style="normal" fill="#6a6a6a" stroke="#6a6a6a" stroke-width="0.12">(</text>
<text x="387.08" y="142.00" textLength="5.04" lengthAdjust="spacingAndGlyphs" font-size="6.60" font-family='"Liberation Serif", serif' font-weight="normal" font-style="italic" fill="#6a6a6a" stroke="#6a6a6a" stroke-width="0.12">m</text>
<text x="391.91" y="143.60" textLength="4.34" lengthAdjust="spacingAndGlyphs" font-size="3.80" font-family='"Liberation Serif", serif' font-weight="normal" font-style="normal" fill="#d0a0b0" >13</text>
<text x="396.74" y="142.00" textLength="11.35" lengthAdjust="spacing" font-size="6.60" font-family='"Liberation Serif", serif' font-weight="normal" font-style="normal" fill="#6a6a6a" stroke="#6a6a6a" stroke-width="0.12">,13)</text>
<text x="363.03" y="186.80" textLength="2.03" lengthAdjust="spacingAndGlyphs" font-size="6.60" font-family='"Liberation Serif", serif' font-weight="normal" font-style="normal" fill="#585858" stroke="#585858" stroke-width="0.12">(</text>
<text x="364.67" y="186.80" textLength="3.87" lengthAdjust="spacingAndGlyphs" font-size="6.60" font-family='"Liberation Serif", serif' font-weight="normal" font-style="italic" fill="#585858" stroke="#585858" stroke-width="0.12">m</text>
<text x="368.58" y="188.40" textLength="2.04" lengthAdjust="spacingAndGlyphs" font-size="3.80" font-family='"Liberation Serif", serif' font-weight="normal" font-style="normal" fill="#a0a0a0" >4</text>
<text x="372.03" y="186.80" textLength="8.85" lengthAdjust="spacing" font-size="6.60" font-family='"Liberation Serif", serif' font-weight="normal" font-style="normal" fill="#585858" stroke="#585858" stroke-width="0.12">,4)</text>
<text x="352.87" y="83.60" textLength="12.22" lengthAdjust="spacingAndGlyphs" font-size="13.40" font-family='"Liberation Serif", serif' font-weight="normal" font-style="italic" fill="#1a1a1a" >Q</text>
<text x="364.58" y="84.90" textLength="7.31" lengthAdjust="spacingAndGlyphs" font-size="8.80" font-family='"Liberation Serif", serif' font-weight="normal" font-style="normal" fill="#1a1a1a" >10</text>
<text x="374.10" y="83.00" textLength="10.19" lengthAdjust="spacingAndGlyphs" font-size="13.00" font-family='"Liberation Serif", serif' font-weight="normal" font-style="normal" fill="#1a1a1a" >=</text>
<text x="352.87" y="107.50" textLength="12.22" lengthAdjust="spacingAndGlyphs" font-size="13.40" font-family='"Liberation Serif", serif' font-weight="normal" font-style="italic" fill="#1a1a1a" >Q</text>
<text x="364.58" y="108.80" textLength="7.31" lengthAdjust="spacingAndGlyphs" font-size="8.80" font-family='"Liberation Serif", serif' font-weight="normal" font-style="normal" fill="#1a1a1a" >10</text>
<text x="374.10" y="106.90" textLength="10.19" lengthAdjust="spacingAndGlyphs" font-size="13.00" font-family='"Liberation Serif", serif' font-weight="normal" font-style="normal" fill="#1a1a1a" >=</text>
<text x="385.73" y="83.10" textLength="4.96" lengthAdjust="spacingAndGlyphs" font-size="13.00" font-family='"Liberation Serif", serif' font-weight="normal" font-style="normal" fill="#1a1a1a" >(</text>
<text x="392.37" y="73.60" textLength="8.86" lengthAdjust="spacingAndGlyphs" font-size="11.00" font-family='"Liberation Serif", serif' font-weight="normal" font-style="italic" fill="#1a1a1a" >R</text>
<text x="400.73" y="75.00" textLength="5.25" lengthAdjust="spacingAndGlyphs" font-size="7.60" font-family='"Liberation Serif", serif' font-weight="normal" font-style="normal" fill="#1a1a1a" >2</text>
<line x1="392.00" y1="76.20" x2="406.00" y2="76.20" stroke="#1a1a1a" stroke-width="0.7" />
<text x="391.97" y="88.40" textLength="8.86" lengthAdjust="spacingAndGlyphs" font-size="11.00" font-family='"Liberation Serif", serif' font-weight="normal" font-style="italic" fill="#1a1a1a" >R</text>
<text x="400.49" y="89.80" textLength="5.35" lengthAdjust="spacingAndGlyphs" font-size="7.60" font-family='"Liberation Serif", serif' font-weight="normal" font-style="normal" fill="#1a1a1a" >1</text>
<text x="406.32" y="83.10" textLength="4.23" lengthAdjust="spacingAndGlyphs" font-size="13.00" font-family='"Liberation Serif", serif' font-weight="normal" font-style="normal" fill="#1a1a1a" >)</text>
<text x="411.51" y="77.80" textLength="16.81" lengthAdjust="spacingAndGlyphs" font-size="8.40" font-family='"Liberation Serif", serif' font-weight="normal" font-style="normal" fill="#1a1a1a" >10/(</text>
<text x="427.83" y="77.80" textLength="4.85" lengthAdjust="spacingAndGlyphs" font-size="8.40" font-family='"Liberation Serif", serif' font-weight="normal" font-style="italic" fill="#1a1a1a" >T</text>
<text x="432.88" y="78.80" textLength="3.50" lengthAdjust="spacingAndGlyphs" font-size="5.80" font-family='"Liberation Serif", serif' font-weight="normal" font-style="normal" fill="#1a1a1a" >2</text>
<text x="435.95" y="78.00" textLength="7.28" lengthAdjust="spacingAndGlyphs" font-size="8.40" font-family='"Liberation Serif", serif' font-weight="normal" font-style="normal" fill="#1a1a1a" >−</text>
<text x="442.43" y="77.80" textLength="4.85" lengthAdjust="spacingAndGlyphs" font-size="8.40" font-family='"Liberation Serif", serif' font-weight="normal" font-style="italic" fill="#1a1a1a" >T</text>
<text x="447.23" y="78.80" textLength="3.38" lengthAdjust="spacingAndGlyphs" font-size="5.80" font-family='"Liberation Serif", serif' font-weight="normal" font-style="normal" fill="#1a1a1a" >1</text>
<text x="451.18" y="77.80" textLength="4.61" lengthAdjust="spacingAndGlyphs" font-size="8.40" font-family='"Liberation Serif", serif' font-weight="normal" font-style="normal" fill="#1a1a1a" >)</text>
<text x="387.39" y="107.50" textLength="6.75" lengthAdjust="spacingAndGlyphs" font-size="13.00" font-family='"Liberation Serif", serif' font-weight="normal" font-style="normal" fill="#1a1a1a" >2</text>
<text x="393.67" y="102.80" textLength="11.46" lengthAdjust="spacingAndGlyphs" font-size="8.40" font-family='"Liberation Serif", serif' font-weight="normal" font-style="normal" fill="#1a1a1a" >10·</text>
<text x="404.08" y="102.80" textLength="6.61" lengthAdjust="spacingAndGlyphs" font-size="8.40" font-family='"Liberation Serif", serif' font-weight="normal" font-style="italic" fill="#1a1a1a" >m</text>
<text x="393.55" y="179.00" textLength="11.31" lengthAdjust="spacingAndGlyphs" font-size="13.00" font-family='"Liberation Serif", serif' font-weight="normal" font-style="italic" fill="#1a1a1a" >m</text>
<text x="405.33" y="181.40" textLength="9.82" lengthAdjust="spacingAndGlyphs" font-size="13.00" font-family='"Liberation Serif", serif' font-weight="normal" font-style="normal" fill="#1a1a1a" >=</text>
<line x1="416.30" y1="177.40" x2="506.40" y2="177.40" stroke="#1a1a1a" stroke-width="0.75" />
<text x="419.63" y="172.30" textLength="17.21" lengthAdjust="spacingAndGlyphs" font-size="11.20" font-family='"Liberation Serif", serif' font-weight="normal" font-style="normal" fill="#1a1a1a" >log</text>
<text x="436.53" y="174.30" textLength="5.25" lengthAdjust="spacingAndGlyphs" font-size="7.60" font-family='"Liberation Serif", serif' font-weight="normal" font-style="normal" fill="#1a1a1a" >2</text>
<text x="443.28" y="172.30" textLength="9.57" lengthAdjust="spacingAndGlyphs" font-size="11.20" font-family='"Liberation Serif", serif' font-weight="normal" font-style="italic" fill="#1a1a1a" >R</text>
<text x="452.33" y="174.30" textLength="5.25" lengthAdjust="spacingAndGlyphs" font-size="7.60" font-family='"Liberation Serif", serif' font-weight="normal" font-style="normal" fill="#1a1a1a" >2</text>
<text x="458.85" y="173.60" textLength="10.67" lengthAdjust="spacingAndGlyphs" font-size="11.20" font-family='"Liberation Serif", serif' font-weight="normal" font-style="normal" fill="#1a1a1a" >−</text>
<text x="470.73" y="172.30" textLength="17.11" lengthAdjust="spacingAndGlyphs" font-size="11.20" font-family='"Liberation Serif", serif' font-weight="normal" font-style="normal" fill="#1a1a1a" >log</text>
<text x="487.53" y="174.30" textLength="5.25" lengthAdjust="spacingAndGlyphs" font-size="7.60" font-family='"Liberation Serif", serif' font-weight="normal" font-style="normal" fill="#1a1a1a" >2</text>
<text x="494.48" y="172.30" textLength="9.57" lengthAdjust="spacingAndGlyphs" font-size="11.20" font-family='"Liberation Serif", serif' font-weight="normal" font-style="italic" fill="#1a1a1a" >R</text>
<text x="503.19" y="174.30" textLength="4.79" lengthAdjust="spacingAndGlyphs" font-size="7.60" font-family='"Liberation Serif", serif' font-weight="normal" font-style="normal" fill="#1a1a1a" >1</text>
<text x="443.01" y="188.70" textLength="7.58" lengthAdjust="spacingAndGlyphs" font-size="11.20" font-family='"Liberation Serif", serif' font-weight="normal" font-style="italic" fill="#1a1a1a" >T</text>
<text x="451.15" y="190.40" textLength="5.00" lengthAdjust="spacingAndGlyphs" font-size="7.60" font-family='"Liberation Serif", serif' font-weight="normal" font-style="normal" fill="#1a1a1a" >2</text>
<text x="457.65" y="188.70" textLength="10.67" lengthAdjust="spacingAndGlyphs" font-size="11.20" font-family='"Liberation Serif", serif' font-weight="normal" font-style="normal" fill="#1a1a1a" >−</text>
<text x="469.17" y="188.70" textLength="7.08" lengthAdjust="spacingAndGlyphs" font-size="11.20" font-family='"Liberation Serif", serif' font-weight="normal" font-style="italic" fill="#1a1a1a" >T</text>
<text x="476.43" y="190.40" textLength="4.51" lengthAdjust="spacingAndGlyphs" font-size="7.60" font-family='"Liberation Serif", serif' font-weight="normal" font-style="normal" fill="#1a1a1a" >1</text>
<rect x="392.4" y="232.4" width="79.8" height="11.0" fill="#fff" stroke="#555" stroke-width="0.8"/>
<text x="394.13" y="240.90" textLength="3.56" lengthAdjust="spacingAndGlyphs" font-size="7.20" font-family='"Liberation Serif", serif' font-weight="normal" font-style="italic" fill="#484848" stroke="#484848" stroke-width="0.12">R</text>
<text x="397.57" y="238.20" textLength="2.50" lengthAdjust="spacingAndGlyphs" font-size="4.40" font-family='"Liberation Serif", serif' font-weight="normal" font-style="normal" fill="#484848" stroke="#484848" stroke-width="0.12">2</text>
<text x="408.20" y="240.90" textLength="23.28" lengthAdjust="spacing" font-size="7.40" font-family='"Liberation Serif", serif' font-weight="normal" font-style="normal" fill="#484848" stroke="#484848" stroke-width="0.12">0.9844,</text>
<text x="431.93" y="240.90" textLength="6.22" lengthAdjust="spacingAndGlyphs" font-size="8.80" font-family='"Liberation Serif", serif' font-weight="normal" font-style="italic" fill="#484848" stroke="#484848" stroke-width="0.12">Q</text>
<text x="437.86" y="242.20" textLength="5.14" lengthAdjust="spacingAndGlyphs" font-size="5.00" font-family='"Liberation Serif", serif' font-weight="normal" font-style="normal" fill="#484848" stroke="#484848" stroke-width="0.12">10</text>
<text x="450.47" y="240.90" textLength="20.83" lengthAdjust="spacing" font-size="7.40" font-family='"Liberation Serif", serif' font-weight="normal" font-style="normal" fill="#484848" stroke="#484848" stroke-width="0.12">2.7208</text>
<line x1="403.20" y1="237.60" x2="406.80" y2="237.60" stroke="#555" stroke-width="0.6" />
<line x1="403.20" y1="239.30" x2="406.80" y2="239.30" stroke="#555" stroke-width="0.6" />
<line x1="445.50" y1="237.60" x2="449.10" y2="237.60" stroke="#555" stroke-width="0.6" />
<line x1="445.50" y1="239.30" x2="449.10" y2="239.30" stroke="#555" stroke-width="0.6" />
<rect x="46.20" y="357.70" width="9.50" height="25.90" fill="#dcc44f" stroke="#3a3a30" stroke-width="0.9"/>
<rect x="55.70" y="305.80" width="9.70" height="77.80" fill="#dcc44f" stroke="#3a3a30" stroke-width="0.9"/>
<rect x="65.40" y="332.30" width="8.80" height="51.30" fill="#dcc44f" stroke="#3a3a30" stroke-width="0.9"/>
<rect x="74.20" y="292.50" width="9.60" height="91.10" fill="#dcc44f" stroke="#3a3a30" stroke-width="0.9"/>
<rect x="83.80" y="358.20" width="9.70" height="25.40" fill="#dcc44f" stroke="#3a3a30" stroke-width="0.9"/>
<rect x="93.50" y="371.50" width="9.30" height="12.10" fill="#dcc44f" stroke="#3a3a30" stroke-width="0.9"/>
<rect x="102.80" y="358.20" width="9.40" height="25.40" fill="#dcc44f" stroke="#3a3a30" stroke-width="0.9"/>
<rect x="112.20" y="371.50" width="9.70" height="12.10" fill="#dcc44f" stroke="#3a3a30" stroke-width="0.9"/>
<line x1="62.20" y1="279.60" x2="62.20" y2="383.60" stroke="#2e2e2e" stroke-width="1.3" stroke-dasharray="5.4,3.0"/>
<line x1="83.00" y1="279.60" x2="83.00" y2="383.60" stroke="#2e2e2e" stroke-width="1.3" stroke-dasharray="5.4,3.0"/>
<path d="M31.90 383.10 C32.67 382.88 34.95 382.57 36.50 381.80 C38.05 381.03 39.82 380.17 41.20 378.50 C42.58 376.83 43.65 374.50 44.80 371.80 C45.95 369.10 46.97 365.63 48.10 362.30 C49.23 358.97 50.45 355.27 51.60 351.80 C52.75 348.33 53.85 344.88 55.00 341.50 C56.15 338.12 57.35 334.57 58.50 331.50 C59.65 328.43 60.72 325.32 61.90 323.10 C63.08 320.88 64.37 319.35 65.60 318.20 C66.83 317.05 68.13 316.40 69.30 316.20 C70.47 316.00 71.52 316.40 72.60 317.00 C73.68 317.60 74.70 318.40 75.80 319.80 C76.90 321.20 77.93 323.32 79.20 325.40 C80.47 327.48 82.32 330.37 83.40 332.30 C84.48 334.23 84.95 335.38 85.70 337.00 C86.45 338.62 87.17 340.45 87.90 342.00 C88.63 343.55 89.37 344.93 90.10 346.30 C90.83 347.67 91.43 348.77 92.30 350.20 C93.17 351.63 94.30 353.42 95.30 354.90 C96.30 356.38 97.37 357.82 98.30 359.10 C99.23 360.38 100.03 361.48 100.90 362.60 C101.77 363.72 102.63 364.80 103.50 365.80 C104.37 366.80 105.23 367.73 106.10 368.60 C106.97 369.47 107.78 370.23 108.70 371.00 C109.62 371.77 110.62 372.50 111.60 373.20 C112.58 373.90 113.48 374.55 114.60 375.20 C115.72 375.85 117.05 376.50 118.30 377.10 C119.55 377.70 120.85 378.28 122.10 378.80 C123.35 379.32 124.57 379.77 125.80 380.20 C127.03 380.63 128.20 381.03 129.50 381.40 C130.80 381.77 132.23 382.10 133.60 382.40 C134.97 382.70 137.02 383.07 137.70 383.20" fill="none" stroke="#0a0a0a" stroke-width="2.2" stroke-linecap="round"/>
<line x1="21.70" y1="279.80" x2="21.70" y2="383.60" stroke="#5c5c5c" stroke-width="1" />
<line x1="21.70" y1="383.60" x2="165.01" y2="383.60" stroke="#5c5c5c" stroke-width="1" />
<line x1="21.70" y1="383.60" x2="23.80" y2="383.60" stroke="#5c5c5c" stroke-width="0.8" />
<text x="15.10" y="385.85" textLength="4.17" lengthAdjust="spacingAndGlyphs" font-size="6.52" font-family='"Liberation Sans", sans-serif' font-weight="normal" font-style="normal" fill="#4e4e4e" stroke="#4e4e4e" stroke-width="0.18">0</text>
<line x1="21.70" y1="357.65" x2="23.80" y2="357.65" stroke="#5c5c5c" stroke-width="0.8" />
<text x="15.21" y="359.90" textLength="4.17" lengthAdjust="spacingAndGlyphs" font-size="6.52" font-family='"Liberation Sans", sans-serif' font-weight="normal" font-style="normal" fill="#4e4e4e" stroke="#4e4e4e" stroke-width="0.18">2</text>
<line x1="21.70" y1="331.70" x2="23.80" y2="331.70" stroke="#5c5c5c" stroke-width="0.8" />
<text x="15.06" y="333.95" textLength="4.17" lengthAdjust="spacingAndGlyphs" font-size="6.52" font-family='"Liberation Sans", sans-serif' font-weight="normal" font-style="normal" fill="#4e4e4e" stroke="#4e4e4e" stroke-width="0.18">4</text>
<line x1="21.70" y1="305.75" x2="23.80" y2="305.75" stroke="#5c5c5c" stroke-width="0.8" />
<text x="15.14" y="308.00" textLength="4.17" lengthAdjust="spacingAndGlyphs" font-size="6.52" font-family='"Liberation Sans", sans-serif' font-weight="normal" font-style="normal" fill="#4e4e4e" stroke="#4e4e4e" stroke-width="0.18">6</text>
<line x1="21.70" y1="279.80" x2="23.80" y2="279.80" stroke="#5c5c5c" stroke-width="0.8" />
<text x="15.14" y="282.05" textLength="4.17" lengthAdjust="spacingAndGlyphs" font-size="6.52" font-family='"Liberation Sans", sans-serif' font-weight="normal" font-style="normal" fill="#4e4e4e" stroke="#4e4e4e" stroke-width="0.18">8</text>
<line x1="21.30" y1="383.60" x2="21.30" y2="381.50" stroke="#5c5c5c" stroke-width="0.8" />
<text x="19.20" y="391.10" textLength="4.17" lengthAdjust="spacingAndGlyphs" font-size="6.52" font-family='"Liberation Sans", sans-serif' font-weight="normal" font-style="normal" fill="#4e4e4e" stroke="#4e4e4e" stroke-width="0.18">0</text>
<line x1="41.83" y1="383.60" x2="41.83" y2="381.50" stroke="#5c5c5c" stroke-width="0.8" />
<text x="39.64" y="391.10" textLength="4.17" lengthAdjust="spacingAndGlyphs" font-size="6.52" font-family='"Liberation Sans", sans-serif' font-weight="normal" font-style="normal" fill="#4e4e4e" stroke="#4e4e4e" stroke-width="0.18">1</text>
<line x1="62.36" y1="383.60" x2="62.36" y2="381.50" stroke="#5c5c5c" stroke-width="0.8" />
<text x="60.28" y="391.10" textLength="4.17" lengthAdjust="spacingAndGlyphs" font-size="6.52" font-family='"Liberation Sans", sans-serif' font-weight="normal" font-style="normal" fill="#4e4e4e" stroke="#4e4e4e" stroke-width="0.18">2</text>
<line x1="82.89" y1="383.60" x2="82.89" y2="381.50" stroke="#5c5c5c" stroke-width="0.8" />
<text x="80.81" y="391.10" textLength="4.17" lengthAdjust="spacingAndGlyphs" font-size="6.52" font-family='"Liberation Sans", sans-serif' font-weight="normal" font-style="normal" fill="#4e4e4e" stroke="#4e4e4e" stroke-width="0.18">3</text>
<line x1="103.42" y1="383.60" x2="103.42" y2="381.50" stroke="#5c5c5c" stroke-width="0.8" />
<text x="101.38" y="391.10" textLength="4.17" lengthAdjust="spacingAndGlyphs" font-size="6.52" font-family='"Liberation Sans", sans-serif' font-weight="normal" font-style="normal" fill="#4e4e4e" stroke="#4e4e4e" stroke-width="0.18">4</text>
<line x1="123.95" y1="383.60" x2="123.95" y2="381.50" stroke="#5c5c5c" stroke-width="0.8" />
<text x="121.87" y="391.10" textLength="4.17" lengthAdjust="spacingAndGlyphs" font-size="6.52" font-family='"Liberation Sans", sans-serif' font-weight="normal" font-style="normal" fill="#4e4e4e" stroke="#4e4e4e" stroke-width="0.18">5</text>
<line x1="144.48" y1="383.60" x2="144.48" y2="381.50" stroke="#5c5c5c" stroke-width="0.8" />
<text x="142.36" y="391.10" textLength="4.17" lengthAdjust="spacingAndGlyphs" font-size="6.52" font-family='"Liberation Sans", sans-serif' font-weight="normal" font-style="normal" fill="#4e4e4e" stroke="#4e4e4e" stroke-width="0.18">6</text>
<line x1="165.01" y1="383.60" x2="165.01" y2="381.50" stroke="#5c5c5c" stroke-width="0.8" />
<text x="162.93" y="391.10" textLength="4.17" lengthAdjust="spacingAndGlyphs" font-size="6.52" font-family='"Liberation Sans", sans-serif' font-weight="normal" font-style="normal" fill="#4e4e4e" stroke="#4e4e4e" stroke-width="0.18">7</text>
<text x="45.86" y="274.20" textLength="96.98" lengthAdjust="spacingAndGlyphs" font-size="8.00" font-family='"Liberation Sans", sans-serif' font-weight="bold" font-style="normal" fill="#1a1a1a" >Linear Fit Measurements</text>
<text transform="translate(10.81,348.40) rotate(-90)" x="-0.58" y="0" textLength="34.18" lengthAdjust="spacingAndGlyphs" font-size="6.40" font-family='"Liberation Sans", sans-serif' font-weight="normal" font-style="normal" fill="#555" >Frequency</text>
<text x="47.16" y="397.40" textLength="80.51" lengthAdjust="spacingAndGlyphs" font-size="6.40" font-family='"Liberation Sans", sans-serif' font-weight="normal" font-style="normal" fill="#555" >Temperature Coefficient (</text>
<text x="127.80" y="397.40" textLength="5.22" lengthAdjust="spacingAndGlyphs" font-size="6.80" font-family='"Liberation Serif", serif' font-weight="normal" font-style="italic" fill="#555" >Q</text>
<text x="132.68" y="398.60" textLength="6.17" lengthAdjust="spacingAndGlyphs" font-size="4.40" font-family='"Liberation Serif", serif' font-weight="normal" font-style="normal" fill="#555" >10</text>
<text x="139.56" y="397.40" textLength="2.51" lengthAdjust="spacingAndGlyphs" font-size="6.40" font-family='"Liberation Sans", sans-serif' font-weight="normal" font-style="normal" fill="#555" >)</text>
<rect x="37.50" y="502.00" width="10.40" height="17.40" fill="#dcc44f" stroke="#3a3a30" stroke-width="0.9"/>
<rect x="47.90" y="458.80" width="10.60" height="60.60" fill="#dcc44f" stroke="#3a3a30" stroke-width="0.9"/>
<rect x="58.50" y="415.60" width="10.30" height="103.80" fill="#dcc44f" stroke="#3a3a30" stroke-width="0.9"/>
<rect x="68.80" y="442.10" width="10.60" height="77.30" fill="#dcc44f" stroke="#3a3a30" stroke-width="0.9"/>
<rect x="79.40" y="442.10" width="10.60" height="77.30" fill="#dcc44f" stroke="#3a3a30" stroke-width="0.9"/>
<rect x="90.00" y="476.10" width="9.70" height="43.30" fill="#dcc44f" stroke="#3a3a30" stroke-width="0.9"/>
<rect x="99.70" y="510.80" width="10.30" height="8.60" fill="#dcc44f" stroke="#3a3a30" stroke-width="0.9"/>
<rect x="151.00" y="510.60" width="10.60" height="8.80" fill="#dcc44f" stroke="#3a3a30" stroke-width="0.9"/>
<line x1="62.70" y1="415.80" x2="62.70" y2="519.40" stroke="#2e2e2e" stroke-width="1.3" stroke-dasharray="5.4,3.0"/>
<line x1="83.50" y1="415.80" x2="83.50" y2="519.40" stroke="#2e2e2e" stroke-width="1.3" stroke-dasharray="5.4,3.0"/>
<path d="M30.00 517.40 C30.50 517.03 31.97 516.13 33.00 515.20 C34.03 514.27 35.00 513.70 36.20 511.80 C37.40 509.90 38.82 506.82 40.20 503.80 C41.58 500.78 43.07 497.92 44.50 493.70 C45.93 489.48 47.40 484.08 48.80 478.50 C50.20 472.92 51.63 465.52 52.90 460.20 C54.17 454.88 55.23 450.78 56.40 446.60 C57.57 442.42 58.97 437.93 59.90 435.10 C60.83 432.27 61.32 430.98 62.00 429.60 C62.68 428.22 63.08 427.10 64.00 426.80 C64.92 426.50 66.33 427.12 67.50 427.80 C68.67 428.48 69.72 429.73 71.00 430.90 C72.28 432.07 73.80 433.40 75.20 434.80 C76.60 436.20 78.12 437.63 79.40 439.30 C80.68 440.97 81.75 442.72 82.90 444.80 C84.05 446.88 85.15 448.93 86.30 451.80 C87.45 454.67 88.63 458.28 89.80 462.00 C90.97 465.72 92.13 470.03 93.30 474.10 C94.47 478.17 95.63 482.68 96.80 486.40 C97.97 490.12 99.02 493.33 100.30 496.40 C101.58 499.47 103.10 502.47 104.50 504.80 C105.90 507.13 107.08 508.83 108.70 510.40 C110.32 511.97 112.35 513.18 114.20 514.20 C116.05 515.22 117.47 515.88 119.80 516.50 C122.13 517.12 125.42 517.62 128.20 517.90 C130.98 518.18 134.18 518.15 136.50 518.20 C138.82 518.25 140.23 518.28 142.10 518.20 C143.97 518.12 145.95 517.97 147.70 517.70 C149.45 517.43 150.97 516.95 152.60 516.60 C154.23 516.25 156.10 515.77 157.50 515.60 C158.90 515.43 159.85 515.47 161.00 515.60 C162.15 515.73 163.83 516.27 164.40 516.40" fill="none" stroke="#0a0a0a" stroke-width="2.2" stroke-linecap="round"/>
<line x1="21.30" y1="415.40" x2="21.30" y2="519.40" stroke="#5c5c5c" stroke-width="1" />
<line x1="21.30" y1="519.40" x2="165.10" y2="519.40" stroke="#5c5c5c" stroke-width="1" />
<line x1="21.30" y1="519.40" x2="23.40" y2="519.40" stroke="#5c5c5c" stroke-width="0.8" />
<text x="15.70" y="521.65" textLength="4.17" lengthAdjust="spacingAndGlyphs" font-size="6.52" font-family='"Liberation Sans", sans-serif' font-weight="normal" font-style="normal" fill="#4e4e4e" stroke="#4e4e4e" stroke-width="0.18">0</text>
<line x1="21.30" y1="502.07" x2="23.40" y2="502.07" stroke="#5c5c5c" stroke-width="0.8" />
<text x="15.81" y="504.32" textLength="4.17" lengthAdjust="spacingAndGlyphs" font-size="6.52" font-family='"Liberation Sans", sans-serif' font-weight="normal" font-style="normal" fill="#4e4e4e" stroke="#4e4e4e" stroke-width="0.18">2</text>
<line x1="21.30" y1="484.73" x2="23.40" y2="484.73" stroke="#5c5c5c" stroke-width="0.8" />
<text x="15.66" y="486.98" textLength="4.17" lengthAdjust="spacingAndGlyphs" font-size="6.52" font-family='"Liberation Sans", sans-serif' font-weight="normal" font-style="normal" fill="#4e4e4e" stroke="#4e4e4e" stroke-width="0.18">4</text>
<line x1="21.30" y1="467.40" x2="23.40" y2="467.40" stroke="#5c5c5c" stroke-width="0.8" />
<text x="15.74" y="469.65" textLength="4.17" lengthAdjust="spacingAndGlyphs" font-size="6.52" font-family='"Liberation Sans", sans-serif' font-weight="normal" font-style="normal" fill="#4e4e4e" stroke="#4e4e4e" stroke-width="0.18">6</text>
<line x1="21.30" y1="450.07" x2="23.40" y2="450.07" stroke="#5c5c5c" stroke-width="0.8" />
<text x="15.74" y="452.32" textLength="4.17" lengthAdjust="spacingAndGlyphs" font-size="6.52" font-family='"Liberation Sans", sans-serif' font-weight="normal" font-style="normal" fill="#4e4e4e" stroke="#4e4e4e" stroke-width="0.18">8</text>
<line x1="21.30" y1="432.73" x2="23.40" y2="432.73" stroke="#5c5c5c" stroke-width="0.8" />
<text x="11.54" y="434.98" textLength="8.34" lengthAdjust="spacingAndGlyphs" font-size="6.52" font-family='"Liberation Sans", sans-serif' font-weight="normal" font-style="normal" fill="#4e4e4e" stroke="#4e4e4e" stroke-width="0.18">10</text>
<line x1="21.30" y1="415.40" x2="23.40" y2="415.40" stroke="#5c5c5c" stroke-width="0.8" />
<text x="11.65" y="417.65" textLength="8.34" lengthAdjust="spacingAndGlyphs" font-size="6.52" font-family='"Liberation Sans", sans-serif' font-weight="normal" font-style="normal" fill="#4e4e4e" stroke="#4e4e4e" stroke-width="0.18">12</text>
<line x1="22.30" y1="519.40" x2="22.30" y2="517.30" stroke="#5c5c5c" stroke-width="0.8" />
<text x="20.20" y="526.90" textLength="4.17" lengthAdjust="spacingAndGlyphs" font-size="6.52" font-family='"Liberation Sans", sans-serif' font-weight="normal" font-style="normal" fill="#4e4e4e" stroke="#4e4e4e" stroke-width="0.18">0</text>
<line x1="42.70" y1="519.40" x2="42.70" y2="517.30" stroke="#5c5c5c" stroke-width="0.8" />
<text x="40.51" y="526.90" textLength="4.17" lengthAdjust="spacingAndGlyphs" font-size="6.52" font-family='"Liberation Sans", sans-serif' font-weight="normal" font-style="normal" fill="#4e4e4e" stroke="#4e4e4e" stroke-width="0.18">1</text>
<line x1="63.10" y1="519.40" x2="63.10" y2="517.30" stroke="#5c5c5c" stroke-width="0.8" />
<text x="61.02" y="526.90" textLength="4.17" lengthAdjust="spacingAndGlyphs" font-size="6.52" font-family='"Liberation Sans", sans-serif' font-weight="normal" font-style="normal" fill="#4e4e4e" stroke="#4e4e4e" stroke-width="0.18">2</text>
<line x1="83.50" y1="519.40" x2="83.50" y2="517.30" stroke="#5c5c5c" stroke-width="0.8" />
<text x="81.42" y="526.90" textLength="4.17" lengthAdjust="spacingAndGlyphs" font-size="6.52" font-family='"Liberation Sans", sans-serif' font-weight="normal" font-style="normal" fill="#4e4e4e" stroke="#4e4e4e" stroke-width="0.18">3</text>
<line x1="103.90" y1="519.40" x2="103.90" y2="517.30" stroke="#5c5c5c" stroke-width="0.8" />
<text x="101.86" y="526.90" textLength="4.17" lengthAdjust="spacingAndGlyphs" font-size="6.52" font-family='"Liberation Sans", sans-serif' font-weight="normal" font-style="normal" fill="#4e4e4e" stroke="#4e4e4e" stroke-width="0.18">4</text>
<line x1="124.30" y1="519.40" x2="124.30" y2="517.30" stroke="#5c5c5c" stroke-width="0.8" />
<text x="122.22" y="526.90" textLength="4.17" lengthAdjust="spacingAndGlyphs" font-size="6.52" font-family='"Liberation Sans", sans-serif' font-weight="normal" font-style="normal" fill="#4e4e4e" stroke="#4e4e4e" stroke-width="0.18">5</text>
<line x1="144.70" y1="519.40" x2="144.70" y2="517.30" stroke="#5c5c5c" stroke-width="0.8" />
<text x="142.58" y="526.90" textLength="4.17" lengthAdjust="spacingAndGlyphs" font-size="6.52" font-family='"Liberation Sans", sans-serif' font-weight="normal" font-style="normal" fill="#4e4e4e" stroke="#4e4e4e" stroke-width="0.18">6</text>
<line x1="165.10" y1="519.40" x2="165.10" y2="517.30" stroke="#5c5c5c" stroke-width="0.8" />
<text x="163.02" y="526.90" textLength="4.17" lengthAdjust="spacingAndGlyphs" font-size="6.52" font-family='"Liberation Sans", sans-serif' font-weight="normal" font-style="normal" fill="#4e4e4e" stroke="#4e4e4e" stroke-width="0.18">7</text>
<text x="39.16" y="409.10" textLength="110.28" lengthAdjust="spacingAndGlyphs" font-size="8.00" font-family='"Liberation Sans", sans-serif' font-weight="bold" font-style="normal" fill="#1a1a1a" >Nonlinear Fit Measurements</text>
<text transform="translate(10.51,483.80) rotate(-90)" x="-0.60" y="0" textLength="35.40" lengthAdjust="spacingAndGlyphs" font-size="6.40" font-family='"Liberation Sans", sans-serif' font-weight="normal" font-style="normal" fill="#555" >Frequency</text>
<text x="47.16" y="532.90" textLength="80.51" lengthAdjust="spacingAndGlyphs" font-size="6.40" font-family='"Liberation Sans", sans-serif' font-weight="normal" font-style="normal" fill="#555" >Temperature Coefficient (</text>
<text x="127.80" y="532.90" textLength="5.22" lengthAdjust="spacingAndGlyphs" font-size="6.80" font-family='"Liberation Serif", serif' font-weight="normal" font-style="italic" fill="#555" >Q</text>
<text x="132.68" y="534.10" textLength="6.17" lengthAdjust="spacingAndGlyphs" font-size="4.40" font-family='"Liberation Serif", serif' font-weight="normal" font-style="normal" fill="#555" >10</text>
<text x="139.56" y="532.90" textLength="2.51" lengthAdjust="spacingAndGlyphs" font-size="6.40" font-family='"Liberation Sans", sans-serif' font-weight="normal" font-style="normal" fill="#555" >)</text>
<circle cx="147.2" cy="297.7" r="18.2" fill="#c9ccd4"/>
<path d="M147.2 297.7 L135.50 311.64 A18.2 18.2 0 0 1 134.79 284.39 Z" fill="#dcc34c"/>
<line x1="147.20" y1="297.70" x2="135.50" y2="311.64" stroke="#262626" stroke-width="1.25" />
<line x1="147.20" y1="297.70" x2="134.79" y2="284.39" stroke="#262626" stroke-width="1.25" />
<line x1="147.20" y1="297.70" x2="162.29" y2="287.52" stroke="#262626" stroke-width="1.25" />
<circle cx="147.2" cy="297.7" r="18.2" fill="none" stroke="#262626" stroke-width="1.3"/>
<text x="107.07" y="299.50" textLength="19.09" lengthAdjust="spacingAndGlyphs" font-size="9.20" font-family='"Liberation Sans", sans-serif' font-weight="bold" font-style="normal" fill="#303030" stroke="#303030" stroke-width="0.35">26%</text>
<circle cx="147.2" cy="433.0" r="18.1" fill="#c9ccd4"/>
<path d="M147.2 433.0 L162.21 422.88 A18.1 18.1 0 0 1 135.93 447.17 Z" fill="#dcc34c"/>
<line x1="147.20" y1="433.00" x2="162.21" y2="422.88" stroke="#262626" stroke-width="1.25" />
<line x1="147.20" y1="433.00" x2="135.93" y2="447.17" stroke="#262626" stroke-width="1.25" />
<line x1="147.20" y1="433.00" x2="134.40" y2="420.20" stroke="#262626" stroke-width="1.25" />
<circle cx="147.2" cy="433.0" r="18.1" fill="none" stroke="#262626" stroke-width="1.3"/>
<text x="143.35" y="461.40" textLength="19.81" lengthAdjust="spacingAndGlyphs" font-size="10.20" font-family='"Liberation Sans", sans-serif' font-weight="bold" font-style="normal" fill="#303030" stroke="#303030" stroke-width="0.35">48%</text>
<line x1="191.50" y1="277.00" x2="191.50" y2="384.40" stroke="#5c5c5c" stroke-width="1" />
<line x1="191.30" y1="384.40" x2="313.30" y2="384.40" stroke="#5c5c5c" stroke-width="1" />
<line x1="191.50" y1="277.00" x2="193.50" y2="277.00" stroke="#5c5c5c" stroke-width="0.8" />
<text x="185.40" y="279.10" textLength="3.89" lengthAdjust="spacingAndGlyphs" font-size="6.09" font-family='"Liberation Sans", sans-serif' font-weight="normal" font-style="normal" fill="#4e4e4e" stroke="#4e4e4e" stroke-width="0.18">6</text>
<line x1="191.50" y1="292.34" x2="193.50" y2="292.34" stroke="#5c5c5c" stroke-width="0.8" />
<text x="185.33" y="294.44" textLength="3.89" lengthAdjust="spacingAndGlyphs" font-size="6.09" font-family='"Liberation Sans", sans-serif' font-weight="normal" font-style="normal" fill="#4e4e4e" stroke="#4e4e4e" stroke-width="0.18">4</text>
<line x1="191.50" y1="307.69" x2="193.50" y2="307.69" stroke="#5c5c5c" stroke-width="0.8" />
<text x="185.47" y="309.79" textLength="3.89" lengthAdjust="spacingAndGlyphs" font-size="6.09" font-family='"Liberation Sans", sans-serif' font-weight="normal" font-style="normal" fill="#4e4e4e" stroke="#4e4e4e" stroke-width="0.18">2</text>
<line x1="191.50" y1="323.03" x2="193.50" y2="323.03" stroke="#5c5c5c" stroke-width="0.8" />
<text x="185.36" y="325.13" textLength="3.89" lengthAdjust="spacingAndGlyphs" font-size="6.09" font-family='"Liberation Sans", sans-serif' font-weight="normal" font-style="normal" fill="#4e4e4e" stroke="#4e4e4e" stroke-width="0.18">0</text>
<line x1="191.50" y1="338.37" x2="193.50" y2="338.37" stroke="#5c5c5c" stroke-width="0.8" />
<text x="183.12" y="340.47" textLength="6.22" lengthAdjust="spacingAndGlyphs" font-size="6.09" font-family='"Liberation Sans", sans-serif' font-weight="normal" font-style="normal" fill="#4e4e4e" stroke="#4e4e4e" stroke-width="0.18">-2</text>
<line x1="191.50" y1="353.71" x2="193.50" y2="353.71" stroke="#5c5c5c" stroke-width="0.8" />
<text x="182.98" y="355.81" textLength="6.22" lengthAdjust="spacingAndGlyphs" font-size="6.09" font-family='"Liberation Sans", sans-serif' font-weight="normal" font-style="normal" fill="#4e4e4e" stroke="#4e4e4e" stroke-width="0.18">-4</text>
<line x1="191.50" y1="369.06" x2="193.50" y2="369.06" stroke="#5c5c5c" stroke-width="0.8" />
<text x="183.05" y="371.16" textLength="6.22" lengthAdjust="spacingAndGlyphs" font-size="6.09" font-family='"Liberation Sans", sans-serif' font-weight="normal" font-style="normal" fill="#4e4e4e" stroke="#4e4e4e" stroke-width="0.18">-6</text>
<line x1="191.50" y1="384.40" x2="193.50" y2="384.40" stroke="#5c5c5c" stroke-width="0.8" />
<text x="183.05" y="386.50" textLength="6.22" lengthAdjust="spacingAndGlyphs" font-size="6.09" font-family='"Liberation Sans", sans-serif' font-weight="normal" font-style="normal" fill="#4e4e4e" stroke="#4e4e4e" stroke-width="0.18">-8</text>
<line x1="191.30" y1="384.40" x2="191.30" y2="382.40" stroke="#5c5c5c" stroke-width="0.8" />
<text x="186.21" y="391.30" textLength="10.12" lengthAdjust="spacingAndGlyphs" font-size="6.09" font-family='"Liberation Sans", sans-serif' font-weight="normal" font-style="normal" fill="#4e4e4e" stroke="#4e4e4e" stroke-width="0.18">-10</text>
<line x1="215.70" y1="384.40" x2="215.70" y2="382.40" stroke="#5c5c5c" stroke-width="0.8" />
<text x="212.57" y="391.30" textLength="6.22" lengthAdjust="spacingAndGlyphs" font-size="6.09" font-family='"Liberation Sans", sans-serif' font-weight="normal" font-style="normal" fill="#4e4e4e" stroke="#4e4e4e" stroke-width="0.18">-5</text>
<line x1="240.10" y1="384.40" x2="240.10" y2="382.40" stroke="#5c5c5c" stroke-width="0.8" />
<text x="238.14" y="391.30" textLength="3.89" lengthAdjust="spacingAndGlyphs" font-size="6.09" font-family='"Liberation Sans", sans-serif' font-weight="normal" font-style="normal" fill="#4e4e4e" stroke="#4e4e4e" stroke-width="0.18">0</text>
<line x1="264.50" y1="384.40" x2="264.50" y2="382.40" stroke="#5c5c5c" stroke-width="0.8" />
<text x="262.56" y="391.30" textLength="3.89" lengthAdjust="spacingAndGlyphs" font-size="6.09" font-family='"Liberation Sans", sans-serif' font-weight="normal" font-style="normal" fill="#4e4e4e" stroke="#4e4e4e" stroke-width="0.18">5</text>
<line x1="288.90" y1="384.40" x2="288.90" y2="382.40" stroke="#5c5c5c" stroke-width="0.8" />
<text x="284.88" y="391.30" textLength="7.79" lengthAdjust="spacingAndGlyphs" font-size="6.09" font-family='"Liberation Sans", sans-serif' font-weight="normal" font-style="normal" fill="#4e4e4e" stroke="#4e4e4e" stroke-width="0.18">10</text>
<line x1="313.30" y1="384.40" x2="313.30" y2="382.40" stroke="#5c5c5c" stroke-width="0.8" />
<text x="309.29" y="391.30" textLength="7.79" lengthAdjust="spacingAndGlyphs" font-size="6.09" font-family='"Liberation Sans", sans-serif' font-weight="normal" font-style="normal" fill="#4e4e4e" stroke="#4e4e4e" stroke-width="0.18">15</text>
<text x="221.88" y="274.10" textLength="70.15" lengthAdjust="spacingAndGlyphs" font-size="8.00" font-family='"Liberation Sans", sans-serif' font-weight="bold" font-style="normal" fill="#1a1a1a" >4 degrees Celsius</text>
<text x="235.11" y="398.30" textLength="43.75" lengthAdjust="spacingAndGlyphs" font-size="6.50" font-family='"Liberation Sans", sans-serif' font-weight="normal" font-style="normal" fill="#4a4a4a" stroke="#4a4a4a" stroke-width="0.15">PC1 (0.5144)</text>
<text transform="translate(181.74,349.00) rotate(-90)" x="-0.67" y="0" textLength="50.00" lengthAdjust="spacingAndGlyphs" font-size="6.50" font-family='"Liberation Sans", sans-serif' font-weight="normal" font-style="normal" fill="#4a4a4a" stroke="#4a4a4a" stroke-width="0.15">PC3 (0.1062)</text>
<circle cx="312.90" cy="270.60" r="1.3" fill="#b02d3a"/>
<text x="316.78" y="272.70" textLength="16.95" lengthAdjust="spacingAndGlyphs" font-size="5.90" font-family='"Liberation Sans", sans-serif' font-weight="normal" font-style="normal" fill="#4c4c4c" stroke="#4c4c4c" stroke-width="0.12">Day 0</text>
<circle cx="312.90" cy="276.55" r="1.3" fill="#8e3244"/>
<text x="316.78" y="278.65" textLength="16.95" lengthAdjust="spacingAndGlyphs" font-size="5.90" font-family='"Liberation Sans", sans-serif' font-weight="normal" font-style="normal" fill="#4c4c4c" stroke="#4c4c4c" stroke-width="0.12">Day 1</text>
<circle cx="312.90" cy="282.50" r="1.3" fill="#687072"/>
<text x="316.78" y="284.60" textLength="16.95" lengthAdjust="spacingAndGlyphs" font-size="5.90" font-family='"Liberation Sans", sans-serif' font-weight="normal" font-style="normal" fill="#4c4c4c" stroke="#4c4c4c" stroke-width="0.12">Day 3</text>
<circle cx="312.90" cy="288.45" r="1.3" fill="#78b0bd"/>
<text x="316.78" y="290.55" textLength="16.95" lengthAdjust="spacingAndGlyphs" font-size="5.90" font-family='"Liberation Sans", sans-serif' font-weight="normal" font-style="normal" fill="#4c4c4c" stroke="#4c4c4c" stroke-width="0.12">Day 7</text>
<circle cx="312.90" cy="294.40" r="1.3" fill="#508aa4"/>
<text x="316.78" y="296.50" textLength="20.56" lengthAdjust="spacingAndGlyphs" font-size="5.90" font-family='"Liberation Sans", sans-serif' font-weight="normal" font-style="normal" fill="#4c4c4c" stroke="#4c4c4c" stroke-width="0.12">Day 10</text>
<circle cx="312.90" cy="300.35" r="1.3" fill="#3c628a"/>
<text x="316.78" y="302.45" textLength="20.56" lengthAdjust="spacingAndGlyphs" font-size="5.90" font-family='"Liberation Sans", sans-serif' font-weight="normal" font-style="normal" fill="#4c4c4c" stroke="#4c4c4c" stroke-width="0.12">Day 14</text>
<circle cx="312.90" cy="306.30" r="1.3" fill="#324c82"/>
<text x="316.78" y="308.40" textLength="20.56" lengthAdjust="spacingAndGlyphs" font-size="5.90" font-family='"Liberation Sans", sans-serif' font-weight="normal" font-style="normal" fill="#4c4c4c" stroke="#4c4c4c" stroke-width="0.12">Day 17</text>
<circle cx="312.90" cy="312.25" r="1.3" fill="#2a3a6c"/>
<text x="316.78" y="314.35" textLength="20.56" lengthAdjust="spacingAndGlyphs" font-size="5.90" font-family='"Liberation Sans", sans-serif' font-weight="normal" font-style="normal" fill="#4c4c4c" stroke="#4c4c4c" stroke-width="0.12">Day 21</text>
<circle cx="192.30" cy="357.30" r="1.2" fill="#b02d3a"/>
<circle cx="196.90" cy="369.60" r="1.2" fill="#b02d3a"/>
<circle cx="193.50" cy="361.50" r="1.2" fill="#b02d3a"/>
<path d="M191.40 362.90H197.80M194.60 359.70V366.10" stroke="#d02c3c" stroke-width="1.0" fill="none"/>
<circle cx="201.50" cy="311.70" r="1.2" fill="#8e3244"/>
<circle cx="201.00" cy="330.70" r="1.2" fill="#8e3244"/>
<circle cx="202.70" cy="329.40" r="1.2" fill="#8e3244"/>
<path d="M198.30 323.60H204.70M201.50 320.40V326.80" stroke="#a53248" stroke-width="1.0" fill="none"/>
<circle cx="210.80" cy="294.00" r="1.2" fill="#488e94"/>
<circle cx="211.70" cy="306.80" r="1.2" fill="#488e94"/>
<circle cx="209.80" cy="309.80" r="1.2" fill="#488e94"/>
<path d="M207.60 303.60H214.00M210.80 300.40V306.80" stroke="#4ea5ac" stroke-width="1.0" fill="none"/>
<circle cx="231.50" cy="289.80" r="1.2" fill="#65a2ad"/>
<circle cx="235.60" cy="308.30" r="1.2" fill="#65a2ad"/>
<path d="M229.20 299.60H235.60M232.40 296.40V302.80" stroke="#72becb" stroke-width="1.0" fill="none"/>
<circle cx="249.80" cy="293.30" r="1.2" fill="#649db0"/>
<circle cx="249.80" cy="294.90" r="1.2" fill="#649db0"/>
<circle cx="251.30" cy="316.70" r="1.2" fill="#649db0"/>
<path d="M247.20 301.30H253.60M250.40 298.10V304.50" stroke="#71b8d0" stroke-width="1.0" fill="none"/>
<circle cx="263.60" cy="297.00" r="1.2" fill="#416c90"/>
<circle cx="263.00" cy="302.10" r="1.2" fill="#416c90"/>
<path d="M263.10 309.40H269.50M266.30 306.20V312.60" stroke="#447aa8" stroke-width="1.0" fill="none"/>
<circle cx="274.90" cy="322.10" r="1.2" fill="#324c82"/>
<circle cx="271.50" cy="328.70" r="1.2" fill="#324c82"/>
<circle cx="280.20" cy="333.70" r="1.2" fill="#324c82"/>
<circle cx="275.90" cy="350.80" r="1.2" fill="#324c82"/>
<path d="M274.10 335.40H280.50M277.30 332.20V338.60" stroke="#325296" stroke-width="1.0" fill="none"/>
<circle cx="292.20" cy="340.00" r="1.2" fill="#2a3a6c"/>
<circle cx="286.20" cy="343.10" r="1.2" fill="#2a3a6c"/>
<circle cx="289.80" cy="355.10" r="1.2" fill="#2a3a6c"/>
<path d="M286.10 346.20H292.50M289.30 343.00V349.40" stroke="#283c7a" stroke-width="1.0" fill="none"/>
<line x1="363.60" y1="277.20" x2="363.60" y2="383.40" stroke="#5c5c5c" stroke-width="1" />
<line x1="363.00" y1="383.40" x2="486.20" y2="383.40" stroke="#5c5c5c" stroke-width="1" />
<line x1="363.60" y1="277.20" x2="365.60" y2="277.20" stroke="#5c5c5c" stroke-width="0.8" />
<text x="357.00" y="279.30" textLength="3.89" lengthAdjust="spacingAndGlyphs" font-size="6.09" font-family='"Liberation Sans", sans-serif' font-weight="normal" font-style="normal" fill="#4e4e4e" stroke="#4e4e4e" stroke-width="0.18">5</text>
<line x1="363.60" y1="312.60" x2="365.60" y2="312.60" stroke="#5c5c5c" stroke-width="0.8" />
<text x="356.96" y="314.70" textLength="3.89" lengthAdjust="spacingAndGlyphs" font-size="6.09" font-family='"Liberation Sans", sans-serif' font-weight="normal" font-style="normal" fill="#4e4e4e" stroke="#4e4e4e" stroke-width="0.18">0</text>
<line x1="363.60" y1="348.00" x2="365.60" y2="348.00" stroke="#5c5c5c" stroke-width="0.8" />
<text x="354.65" y="350.10" textLength="6.22" lengthAdjust="spacingAndGlyphs" font-size="6.09" font-family='"Liberation Sans", sans-serif' font-weight="normal" font-style="normal" fill="#4e4e4e" stroke="#4e4e4e" stroke-width="0.18">-5</text>
<line x1="363.60" y1="383.40" x2="365.60" y2="383.40" stroke="#5c5c5c" stroke-width="0.8" />
<text x="350.73" y="385.50" textLength="10.12" lengthAdjust="spacingAndGlyphs" font-size="6.09" font-family='"Liberation Sans", sans-serif' font-weight="normal" font-style="normal" fill="#4e4e4e" stroke="#4e4e4e" stroke-width="0.18">-10</text>
<line x1="363.00" y1="383.40" x2="363.00" y2="381.40" stroke="#5c5c5c" stroke-width="0.8" />
<text x="357.66" y="391.30" textLength="10.60" lengthAdjust="spacingAndGlyphs" font-size="6.38" font-family='"Liberation Sans", sans-serif' font-weight="normal" font-style="normal" fill="#4e4e4e" stroke="#4e4e4e" stroke-width="0.18">-10</text>
<line x1="387.64" y1="383.40" x2="387.64" y2="381.40" stroke="#5c5c5c" stroke-width="0.8" />
<text x="384.36" y="391.30" textLength="6.52" lengthAdjust="spacingAndGlyphs" font-size="6.38" font-family='"Liberation Sans", sans-serif' font-weight="normal" font-style="normal" fill="#4e4e4e" stroke="#4e4e4e" stroke-width="0.18">-5</text>
<line x1="412.28" y1="383.40" x2="412.28" y2="381.40" stroke="#5c5c5c" stroke-width="0.8" />
<text x="410.23" y="391.30" textLength="4.08" lengthAdjust="spacingAndGlyphs" font-size="6.38" font-family='"Liberation Sans", sans-serif' font-weight="normal" font-style="normal" fill="#4e4e4e" stroke="#4e4e4e" stroke-width="0.18">0</text>
<line x1="436.92" y1="383.40" x2="436.92" y2="381.40" stroke="#5c5c5c" stroke-width="0.8" />
<text x="434.88" y="391.30" textLength="4.08" lengthAdjust="spacingAndGlyphs" font-size="6.38" font-family='"Liberation Sans", sans-serif' font-weight="normal" font-style="normal" fill="#4e4e4e" stroke="#4e4e4e" stroke-width="0.18">5</text>
<line x1="461.56" y1="383.40" x2="461.56" y2="381.40" stroke="#5c5c5c" stroke-width="0.8" />
<text x="457.34" y="391.30" textLength="8.16" lengthAdjust="spacingAndGlyphs" font-size="6.38" font-family='"Liberation Sans", sans-serif' font-weight="normal" font-style="normal" fill="#4e4e4e" stroke="#4e4e4e" stroke-width="0.18">10</text>
<line x1="486.20" y1="383.40" x2="486.20" y2="381.40" stroke="#5c5c5c" stroke-width="0.8" />
<text x="482.00" y="391.30" textLength="8.16" lengthAdjust="spacingAndGlyphs" font-size="6.38" font-family='"Liberation Sans", sans-serif' font-weight="normal" font-style="normal" fill="#4e4e4e" stroke="#4e4e4e" stroke-width="0.18">15</text>
<text x="392.20" y="274.10" textLength="74.83" lengthAdjust="spacingAndGlyphs" font-size="8.00" font-family='"Liberation Sans", sans-serif' font-weight="bold" font-style="normal" fill="#1a1a1a" >13 degrees Celsius</text>
<text x="407.70" y="398.10" textLength="44.26" lengthAdjust="spacingAndGlyphs" font-size="6.50" font-family='"Liberation Sans", sans-serif' font-weight="normal" font-style="normal" fill="#4a4a4a" stroke="#4a4a4a" stroke-width="0.15">PC1 (0.4852)</text>
<text transform="translate(352.94,349.70) rotate(-90)" x="-0.60" y="0" textLength="44.78" lengthAdjust="spacingAndGlyphs" font-size="6.50" font-family='"Liberation Sans", sans-serif' font-weight="normal" font-style="normal" fill="#4a4a4a" stroke="#4a4a4a" stroke-width="0.15">PC2 (0.1452)</text>
<circle cx="486.01" cy="270.70" r="1.3" fill="#b02d3a"/>
<text x="490.18" y="272.80" textLength="16.95" lengthAdjust="spacingAndGlyphs" font-size="5.90" font-family='"Liberation Sans", sans-serif' font-weight="normal" font-style="normal" fill="#4c4c4c" stroke="#4c4c4c" stroke-width="0.12">Day 0</text>
<circle cx="486.01" cy="276.70" r="1.3" fill="#a92d3b"/>
<text x="490.18" y="278.80" textLength="22.37" lengthAdjust="spacingAndGlyphs" font-size="5.90" font-family='"Liberation Sans", sans-serif' font-weight="normal" font-style="normal" fill="#4c4c4c" stroke="#4c4c4c" stroke-width="0.12">Day 0.3</text>
<circle cx="486.01" cy="282.70" r="1.3" fill="#8e3244"/>
<text x="490.18" y="284.80" textLength="16.95" lengthAdjust="spacingAndGlyphs" font-size="5.90" font-family='"Liberation Sans", sans-serif' font-weight="normal" font-style="normal" fill="#4c4c4c" stroke="#4c4c4c" stroke-width="0.12">Day 1</text>
<circle cx="486.01" cy="288.70" r="1.3" fill="#6c6067"/>
<text x="490.18" y="290.80" textLength="22.37" lengthAdjust="spacingAndGlyphs" font-size="5.90" font-family='"Liberation Sans", sans-serif' font-weight="normal" font-style="normal" fill="#4c4c4c" stroke="#4c4c4c" stroke-width="0.12">Day 2.3</text>
<circle cx="486.01" cy="294.70" r="1.3" fill="#587a7c"/>
<text x="490.18" y="296.80" textLength="22.37" lengthAdjust="spacingAndGlyphs" font-size="5.90" font-family='"Liberation Sans", sans-serif' font-weight="normal" font-style="normal" fill="#4c4c4c" stroke="#4c4c4c" stroke-width="0.12">Day 3.3</text>
<circle cx="486.01" cy="300.70" r="1.3" fill="#4c9197"/>
<text x="490.18" y="302.80" textLength="22.37" lengthAdjust="spacingAndGlyphs" font-size="5.90" font-family='"Liberation Sans", sans-serif' font-weight="normal" font-style="normal" fill="#4c4c4c" stroke="#4c4c4c" stroke-width="0.12">Day 4.3</text>
<circle cx="486.01" cy="306.70" r="1.3" fill="#609fa8"/>
<text x="490.18" y="308.80" textLength="16.95" lengthAdjust="spacingAndGlyphs" font-size="5.90" font-family='"Liberation Sans", sans-serif' font-weight="normal" font-style="normal" fill="#4c4c4c" stroke="#4c4c4c" stroke-width="0.12">Day 6</text>
<circle cx="486.01" cy="312.70" r="1.3" fill="#78b0bd"/>
<text x="490.18" y="314.80" textLength="16.95" lengthAdjust="spacingAndGlyphs" font-size="5.90" font-family='"Liberation Sans", sans-serif' font-weight="normal" font-style="normal" fill="#4c4c4c" stroke="#4c4c4c" stroke-width="0.12">Day 7</text>
<circle cx="486.01" cy="318.70" r="1.3" fill="#508aa4"/>
<text x="490.18" y="320.80" textLength="20.56" lengthAdjust="spacingAndGlyphs" font-size="5.90" font-family='"Liberation Sans", sans-serif' font-weight="normal" font-style="normal" fill="#4c4c4c" stroke="#4c4c4c" stroke-width="0.12">Day 10</text>
<circle cx="486.01" cy="324.70" r="1.3" fill="#3c4e62"/>
<text x="490.18" y="326.80" textLength="20.56" lengthAdjust="spacingAndGlyphs" font-size="5.90" font-family='"Liberation Sans", sans-serif' font-weight="normal" font-style="normal" fill="#4c4c4c" stroke="#4c4c4c" stroke-width="0.12">Day 14</text>
<circle cx="486.01" cy="330.70" r="1.3" fill="#3a4656"/>
<text x="490.18" y="332.80" textLength="20.56" lengthAdjust="spacingAndGlyphs" font-size="5.90" font-family='"Liberation Sans", sans-serif' font-weight="normal" font-style="normal" fill="#4c4c4c" stroke="#4c4c4c" stroke-width="0.12">Day 21</text>
<circle cx="378.60" cy="360.20" r="1.2" fill="#b02d3a"/>
<circle cx="377.10" cy="371.10" r="1.2" fill="#b02d3a"/>
<circle cx="376.00" cy="364.00" r="1.2" fill="#b02d3a"/>
<path d="M374.30 363.60H380.70M377.50 360.40V366.80" stroke="#d02c3c" stroke-width="1.0" fill="none"/>
<circle cx="377.00" cy="336.50" r="1.2" fill="#a92d3b"/>
<circle cx="379.00" cy="335.00" r="1.2" fill="#a92d3b"/>
<circle cx="375.00" cy="340.00" r="1.2" fill="#a92d3b"/>
<circle cx="378.50" cy="337.50" r="1.2" fill="#a92d3b"/>
<circle cx="380.50" cy="310.60" r="1.2" fill="#a92d3b"/>
<circle cx="383.60" cy="316.70" r="1.2" fill="#a92d3b"/>
<circle cx="376.70" cy="319.80" r="1.2" fill="#a92d3b"/>
<path d="M377.00 315.90H383.40M380.20 312.70V319.10" stroke="#c72c3e" stroke-width="1.0" fill="none"/>
<circle cx="383.60" cy="301.70" r="1.2" fill="#8e3244"/>
<path d="M383.90 299.80H390.30M387.10 296.60V303.00" stroke="#a53248" stroke-width="1.0" fill="none"/>
<circle cx="384.80" cy="286.40" r="1.2" fill="#6c6067"/>
<circle cx="394.60" cy="277.80" r="1.2" fill="#6c6067"/>
<circle cx="400.40" cy="289.60" r="1.2" fill="#6c6067"/>
<circle cx="401.80" cy="292.50" r="1.2" fill="#6c6067"/>
<circle cx="394.40" cy="294.20" r="1.2" fill="#6c6067"/>
<circle cx="393.40" cy="310.60" r="1.2" fill="#6c6067"/>
<path d="M393.50 287.10H399.90M396.70 283.90V290.30" stroke="#7b6c75" stroke-width="1.0" fill="none"/>
<circle cx="401.80" cy="277.20" r="1.2" fill="#6d6d6f"/>
<circle cx="407.00" cy="285.90" r="1.2" fill="#6d6d6f"/>
<circle cx="410.20" cy="295.60" r="1.2" fill="#6d6d6f"/>
<path d="M400.60 285.00H407.00M403.80 281.80V288.20" stroke="#7c7c7e" stroke-width="1.0" fill="none"/>
<circle cx="415.40" cy="279.50" r="1.2" fill="#528386"/>
<path d="M412.20 289.20H418.60M415.40 286.00V292.40" stroke="#59979b" stroke-width="1.0" fill="none"/>
<circle cx="421.50" cy="286.60" r="1.2" fill="#78b0bd"/>
<circle cx="427.70" cy="289.20" r="1.2" fill="#78b0bd"/>
<circle cx="420.00" cy="292.30" r="1.2" fill="#78b0bd"/>
<circle cx="420.00" cy="298.50" r="1.2" fill="#78b0bd"/>
<path d="M419.80 291.50H426.20M423.00 288.30V294.70" stroke="#8ad0e0" stroke-width="1.0" fill="none"/>
<circle cx="439.50" cy="292.80" r="1.2" fill="#6ca8b3"/>
<circle cx="445.70" cy="306.20" r="1.2" fill="#6ca8b3"/>
<circle cx="440.00" cy="316.20" r="1.2" fill="#6ca8b3"/>
<path d="M438.30 305.40H444.70M441.50 302.20V308.60" stroke="#7bc5d3" stroke-width="1.0" fill="none"/>
<circle cx="453.10" cy="301.50" r="1.2" fill="#3c4e62"/>
<circle cx="453.80" cy="326.20" r="1.2" fill="#3c4e62"/>
<circle cx="463.50" cy="326.20" r="1.2" fill="#3c4e62"/>
<path d="M453.70 318.00H460.10M456.90 314.80V321.20" stroke="#4a7494" stroke-width="1.0" fill="none"/>
<circle cx="475.40" cy="329.20" r="1.2" fill="#3a4656"/>
<circle cx="483.00" cy="349.20" r="1.2" fill="#3a4656"/>
<circle cx="478.00" cy="350.50" r="1.2" fill="#3a4656"/>
<path d="M475.70 343.50H482.10M478.90 340.30V346.70" stroke="#3e4e62" stroke-width="1.0" fill="none"/>
<line x1="191.60" y1="411.90" x2="191.60" y2="518.90" stroke="#5c5c5c" stroke-width="1" />
<line x1="190.80" y1="519.00" x2="313.60" y2="519.00" stroke="#5c5c5c" stroke-width="1" />
<line x1="191.60" y1="411.90" x2="193.60" y2="411.90" stroke="#5c5c5c" stroke-width="0.8" />
<text x="185.40" y="414.00" textLength="3.89" lengthAdjust="spacingAndGlyphs" font-size="6.09" font-family='"Liberation Sans", sans-serif' font-weight="normal" font-style="normal" fill="#4e4e4e" stroke="#4e4e4e" stroke-width="0.18">6</text>
<line x1="191.60" y1="427.19" x2="193.60" y2="427.19" stroke="#5c5c5c" stroke-width="0.8" />
<text x="185.33" y="429.29" textLength="3.89" lengthAdjust="spacingAndGlyphs" font-size="6.09" font-family='"Liberation Sans", sans-serif' font-weight="normal" font-style="normal" fill="#4e4e4e" stroke="#4e4e4e" stroke-width="0.18">4</text>
<line x1="191.60" y1="442.47" x2="193.60" y2="442.47" stroke="#5c5c5c" stroke-width="0.8" />
<text x="185.47" y="444.57" textLength="3.89" lengthAdjust="spacingAndGlyphs" font-size="6.09" font-family='"Liberation Sans", sans-serif' font-weight="normal" font-style="normal" fill="#4e4e4e" stroke="#4e4e4e" stroke-width="0.18">2</text>
<line x1="191.60" y1="457.76" x2="193.60" y2="457.76" stroke="#5c5c5c" stroke-width="0.8" />
<text x="185.36" y="459.86" textLength="3.89" lengthAdjust="spacingAndGlyphs" font-size="6.09" font-family='"Liberation Sans", sans-serif' font-weight="normal" font-style="normal" fill="#4e4e4e" stroke="#4e4e4e" stroke-width="0.18">0</text>
<line x1="191.60" y1="473.04" x2="193.60" y2="473.04" stroke="#5c5c5c" stroke-width="0.8" />
<text x="183.12" y="475.14" textLength="6.22" lengthAdjust="spacingAndGlyphs" font-size="6.09" font-family='"Liberation Sans", sans-serif' font-weight="normal" font-style="normal" fill="#4e4e4e" stroke="#4e4e4e" stroke-width="0.18">-2</text>
<line x1="191.60" y1="488.33" x2="193.60" y2="488.33" stroke="#5c5c5c" stroke-width="0.8" />
<text x="182.98" y="490.43" textLength="6.22" lengthAdjust="spacingAndGlyphs" font-size="6.09" font-family='"Liberation Sans", sans-serif' font-weight="normal" font-style="normal" fill="#4e4e4e" stroke="#4e4e4e" stroke-width="0.18">-4</text>
<line x1="191.60" y1="503.61" x2="193.60" y2="503.61" stroke="#5c5c5c" stroke-width="0.8" />
<text x="183.05" y="505.71" textLength="6.22" lengthAdjust="spacingAndGlyphs" font-size="6.09" font-family='"Liberation Sans", sans-serif' font-weight="normal" font-style="normal" fill="#4e4e4e" stroke="#4e4e4e" stroke-width="0.18">-6</text>
<line x1="191.60" y1="518.90" x2="193.60" y2="518.90" stroke="#5c5c5c" stroke-width="0.8" />
<text x="183.05" y="521.00" textLength="6.22" lengthAdjust="spacingAndGlyphs" font-size="6.09" font-family='"Liberation Sans", sans-serif' font-weight="normal" font-style="normal" fill="#4e4e4e" stroke="#4e4e4e" stroke-width="0.18">-8</text>
<line x1="190.80" y1="519.00" x2="190.80" y2="517.00" stroke="#5c5c5c" stroke-width="0.8" />
<text x="185.47" y="526.30" textLength="10.60" lengthAdjust="spacingAndGlyphs" font-size="6.38" font-family='"Liberation Sans", sans-serif' font-weight="normal" font-style="normal" fill="#4e4e4e" stroke="#4e4e4e" stroke-width="0.18">-10</text>
<line x1="211.27" y1="519.00" x2="211.27" y2="517.00" stroke="#5c5c5c" stroke-width="0.8" />
<text x="207.99" y="526.30" textLength="6.52" lengthAdjust="spacingAndGlyphs" font-size="6.38" font-family='"Liberation Sans", sans-serif' font-weight="normal" font-style="normal" fill="#4e4e4e" stroke="#4e4e4e" stroke-width="0.18">-5</text>
<line x1="231.73" y1="519.00" x2="231.73" y2="517.00" stroke="#5c5c5c" stroke-width="0.8" />
<text x="229.68" y="526.30" textLength="4.08" lengthAdjust="spacingAndGlyphs" font-size="6.38" font-family='"Liberation Sans", sans-serif' font-weight="normal" font-style="normal" fill="#4e4e4e" stroke="#4e4e4e" stroke-width="0.18">0</text>
<line x1="252.20" y1="519.00" x2="252.20" y2="517.00" stroke="#5c5c5c" stroke-width="0.8" />
<text x="250.17" y="526.30" textLength="4.08" lengthAdjust="spacingAndGlyphs" font-size="6.38" font-family='"Liberation Sans", sans-serif' font-weight="normal" font-style="normal" fill="#4e4e4e" stroke="#4e4e4e" stroke-width="0.18">5</text>
<line x1="272.67" y1="519.00" x2="272.67" y2="517.00" stroke="#5c5c5c" stroke-width="0.8" />
<text x="268.45" y="526.30" textLength="8.16" lengthAdjust="spacingAndGlyphs" font-size="6.38" font-family='"Liberation Sans", sans-serif' font-weight="normal" font-style="normal" fill="#4e4e4e" stroke="#4e4e4e" stroke-width="0.18">10</text>
<line x1="293.13" y1="519.00" x2="293.13" y2="517.00" stroke="#5c5c5c" stroke-width="0.8" />
<text x="288.94" y="526.30" textLength="8.16" lengthAdjust="spacingAndGlyphs" font-size="6.38" font-family='"Liberation Sans", sans-serif' font-weight="normal" font-style="normal" fill="#4e4e4e" stroke="#4e4e4e" stroke-width="0.18">15</text>
<line x1="313.60" y1="519.00" x2="313.60" y2="517.00" stroke="#5c5c5c" stroke-width="0.8" />
<text x="309.48" y="526.30" textLength="8.16" lengthAdjust="spacingAndGlyphs" font-size="6.38" font-family='"Liberation Sans", sans-serif' font-weight="normal" font-style="normal" fill="#4e4e4e" stroke="#4e4e4e" stroke-width="0.18">20</text>
<text x="219.21" y="409.10" textLength="74.72" lengthAdjust="spacingAndGlyphs" font-size="8.00" font-family='"Liberation Sans", sans-serif' font-weight="bold" font-style="normal" fill="#1a1a1a" >22 degrees Celsius</text>
<text x="235.12" y="533.60" textLength="43.24" lengthAdjust="spacingAndGlyphs" font-size="6.50" font-family='"Liberation Sans", sans-serif' font-weight="normal" font-style="normal" fill="#4a4a4a" stroke="#4a4a4a" stroke-width="0.15">PC1 (0.5094)</text>
<text transform="translate(180.74,484.10) rotate(-90)" x="-0.60" y="0" textLength="44.37" lengthAdjust="spacingAndGlyphs" font-size="6.50" font-family='"Liberation Sans", sans-serif' font-weight="normal" font-style="normal" fill="#4a4a4a" stroke="#4a4a4a" stroke-width="0.15">PC2 (0.1710)</text>
<circle cx="312.60" cy="405.60" r="1.3" fill="#b02d3a"/>
<text x="316.98" y="407.70" textLength="16.95" lengthAdjust="spacingAndGlyphs" font-size="5.90" font-family='"Liberation Sans", sans-serif' font-weight="normal" font-style="normal" fill="#4c4c4c" stroke="#4c4c4c" stroke-width="0.12">Day 0</text>
<circle cx="312.60" cy="411.70" r="1.3" fill="#ac2d3b"/>
<text x="316.98" y="413.80" textLength="22.37" lengthAdjust="spacingAndGlyphs" font-size="5.90" font-family='"Liberation Sans", sans-serif' font-weight="normal" font-style="normal" fill="#4c4c4c" stroke="#4c4c4c" stroke-width="0.12">Day 0.2</text>
<circle cx="312.60" cy="417.80" r="1.3" fill="#a72d3c"/>
<text x="316.98" y="419.90" textLength="22.37" lengthAdjust="spacingAndGlyphs" font-size="5.90" font-family='"Liberation Sans", sans-serif' font-weight="normal" font-style="normal" fill="#4c4c4c" stroke="#4c4c4c" stroke-width="0.12">Day 0.4</text>
<circle cx="312.60" cy="423.90" r="1.3" fill="#8e3244"/>
<text x="316.98" y="426.00" textLength="16.95" lengthAdjust="spacingAndGlyphs" font-size="5.90" font-family='"Liberation Sans", sans-serif' font-weight="normal" font-style="normal" fill="#4c4c4c" stroke="#4c4c4c" stroke-width="0.12">Day 1</text>
<circle cx="312.60" cy="430.00" r="1.3" fill="#7f4352"/>
<text x="316.98" y="432.10" textLength="29.59" lengthAdjust="spacingAndGlyphs" font-size="5.90" font-family='"Liberation Sans", sans-serif' font-weight="normal" font-style="normal" fill="#4c4c4c" stroke="#4c4c4c" stroke-width="0.12">Day 1.375</text>
<circle cx="312.60" cy="436.10" r="1.3" fill="#6f5660"/>
<text x="316.98" y="438.20" textLength="29.59" lengthAdjust="spacingAndGlyphs" font-size="5.90" font-family='"Liberation Sans", sans-serif' font-weight="normal" font-style="normal" fill="#4c4c4c" stroke="#4c4c4c" stroke-width="0.12">Day 1.875</text>
<circle cx="312.60" cy="442.20" r="1.3" fill="#6d6d6e"/>
<text x="316.98" y="444.30" textLength="29.59" lengthAdjust="spacingAndGlyphs" font-size="5.90" font-family='"Liberation Sans", sans-serif' font-weight="normal" font-style="normal" fill="#4c4c4c" stroke="#4c4c4c" stroke-width="0.12">Day 2.875</text>
<circle cx="312.60" cy="448.30" r="1.3" fill="#5b787a"/>
<text x="316.98" y="450.40" textLength="25.98" lengthAdjust="spacingAndGlyphs" font-size="5.90" font-family='"Liberation Sans", sans-serif' font-weight="normal" font-style="normal" fill="#4c4c4c" stroke="#4c4c4c" stroke-width="0.12">Day 3.25</text>
<circle cx="312.60" cy="454.40" r="1.3" fill="#488e94"/>
<text x="316.98" y="456.50" textLength="16.95" lengthAdjust="spacingAndGlyphs" font-size="5.90" font-family='"Liberation Sans", sans-serif' font-weight="normal" font-style="normal" fill="#4c4c4c" stroke="#4c4c4c" stroke-width="0.12">Day 4</text>
<circle cx="312.60" cy="460.50" r="1.3" fill="#78b0bd"/>
<text x="316.98" y="462.60" textLength="16.95" lengthAdjust="spacingAndGlyphs" font-size="5.90" font-family='"Liberation Sans", sans-serif' font-weight="normal" font-style="normal" fill="#4c4c4c" stroke="#4c4c4c" stroke-width="0.12">Day 7</text>
<circle cx="312.60" cy="466.60" r="1.3" fill="#3c628a"/>
<text x="316.98" y="468.70" textLength="20.56" lengthAdjust="spacingAndGlyphs" font-size="5.90" font-family='"Liberation Sans", sans-serif' font-weight="normal" font-style="normal" fill="#4c4c4c" stroke="#4c4c4c" stroke-width="0.12">Day 14</text>
<circle cx="312.60" cy="472.70" r="1.3" fill="#2a3a6c"/>
<text x="316.98" y="474.80" textLength="20.56" lengthAdjust="spacingAndGlyphs" font-size="5.90" font-family='"Liberation Sans", sans-serif' font-weight="normal" font-style="normal" fill="#4c4c4c" stroke="#4c4c4c" stroke-width="0.12">Day 21</text>
<circle cx="209.00" cy="511.30" r="1.15" fill="#b02d3a"/>
<circle cx="211.00" cy="514.00" r="1.15" fill="#b02d3a"/>
<circle cx="210.80" cy="511.80" r="1.15" fill="#b02d3a"/>
<path d="M207.20 512.80H212.80M210.00 510.00V515.60" stroke="#d02c3c" stroke-width="1.0" fill="none"/>
<circle cx="209.50" cy="488.50" r="1.15" fill="#ac2d3b"/>
<circle cx="207.50" cy="491.00" r="1.15" fill="#ac2d3b"/>
<circle cx="213.00" cy="493.00" r="1.15" fill="#ac2d3b"/>
<circle cx="211.00" cy="499.50" r="1.15" fill="#ac2d3b"/>
<path d="M207.20 493.00H212.80M210.00 490.20V495.80" stroke="#ca2c3d" stroke-width="1.0" fill="none"/>
<circle cx="206.00" cy="477.60" r="1.15" fill="#a72d3c"/>
<circle cx="209.00" cy="481.10" r="1.15" fill="#a72d3c"/>
<circle cx="211.00" cy="481.60" r="1.15" fill="#a72d3c"/>
<path d="M205.70 480.60H211.30M208.50 477.80V483.40" stroke="#c42c3e" stroke-width="1.0" fill="none"/>
<circle cx="209.90" cy="456.50" r="1.15" fill="#8e3244"/>
<circle cx="213.00" cy="461.10" r="1.15" fill="#8e3244"/>
<circle cx="214.00" cy="464.50" r="1.15" fill="#8e3244"/>
<path d="M209.10 461.10H214.70M211.90 458.30V463.90" stroke="#a53248" stroke-width="1.0" fill="none"/>
<circle cx="215.00" cy="451.30" r="1.15" fill="#7f4352"/>
<circle cx="218.00" cy="454.80" r="1.15" fill="#7f4352"/>
<circle cx="217.00" cy="456.30" r="1.15" fill="#7f4352"/>
<path d="M213.70 453.30H219.30M216.50 450.50V456.10" stroke="#92475a" stroke-width="1.0" fill="none"/>
<circle cx="220.00" cy="440.50" r="1.15" fill="#6f5660"/>
<circle cx="217.00" cy="445.00" r="1.15" fill="#6f5660"/>
<circle cx="216.00" cy="446.00" r="1.15" fill="#6f5660"/>
<path d="M215.70 443.00H221.30M218.50 440.20V445.80" stroke="#7e5e6c" stroke-width="1.0" fill="none"/>
<circle cx="223.20" cy="428.80" r="1.15" fill="#6d6d6e"/>
<circle cx="226.70" cy="433.80" r="1.15" fill="#6d6d6e"/>
<circle cx="224.70" cy="434.30" r="1.15" fill="#6d6d6e"/>
<path d="M221.40 431.80H227.00M224.20 429.00V434.60" stroke="#7c7b7e" stroke-width="1.0" fill="none"/>
<circle cx="223.70" cy="424.10" r="1.15" fill="#5b787a"/>
<circle cx="232.20" cy="425.10" r="1.15" fill="#5b787a"/>
<circle cx="227.70" cy="428.10" r="1.15" fill="#5b787a"/>
<path d="M224.90 424.60H230.50M227.70 421.80V427.40" stroke="#658a8c" stroke-width="1.0" fill="none"/>
<circle cx="230.90" cy="414.70" r="1.15" fill="#488e94"/>
<circle cx="236.90" cy="416.70" r="1.15" fill="#488e94"/>
<circle cx="234.40" cy="420.70" r="1.15" fill="#488e94"/>
<path d="M230.60 417.70H236.20M233.40 414.90V420.50" stroke="#4ea5ac" stroke-width="1.0" fill="none"/>
<circle cx="249.20" cy="416.80" r="1.15" fill="#78b0bd"/>
<circle cx="244.20" cy="419.80" r="1.15" fill="#78b0bd"/>
<circle cx="247.70" cy="420.80" r="1.15" fill="#78b0bd"/>
<path d="M243.90 418.80H249.50M246.70 416.00V421.60" stroke="#8ad0e0" stroke-width="1.0" fill="none"/>
<circle cx="280.60" cy="457.60" r="1.15" fill="#3c628a"/>
<circle cx="275.10" cy="465.70" r="1.15" fill="#3c628a"/>
<circle cx="279.90" cy="466.60" r="1.15" fill="#3c628a"/>
<path d="M275.10 463.40H280.70M277.90 460.60V466.20" stroke="#3e6ea0" stroke-width="1.0" fill="none"/>
<circle cx="298.50" cy="485.50" r="1.15" fill="#2a3a6c"/>
<circle cx="302.20" cy="493.60" r="1.15" fill="#2a3a6c"/>
<circle cx="300.40" cy="496.90" r="1.15" fill="#2a3a6c"/>
<path d="M297.40 491.90H303.00M300.20 489.10V494.70" stroke="#283c7a" stroke-width="1.0" fill="none"/>
<line x1="363.60" y1="411.90" x2="363.60" y2="517.70" stroke="#5c5c5c" stroke-width="1" />
<line x1="363.00" y1="518.60" x2="486.20" y2="518.60" stroke="#5c5c5c" stroke-width="1" />
<line x1="363.60" y1="411.90" x2="365.60" y2="411.90" stroke="#5c5c5c" stroke-width="0.8" />
<text x="357.00" y="414.00" textLength="3.89" lengthAdjust="spacingAndGlyphs" font-size="6.09" font-family='"Liberation Sans", sans-serif' font-weight="normal" font-style="normal" fill="#4e4e4e" stroke="#4e4e4e" stroke-width="0.18">6</text>
<line x1="363.60" y1="423.66" x2="365.60" y2="423.66" stroke="#5c5c5c" stroke-width="0.8" />
<line x1="363.60" y1="435.41" x2="365.60" y2="435.41" stroke="#5c5c5c" stroke-width="0.8" />
<line x1="363.60" y1="447.17" x2="365.60" y2="447.17" stroke="#5c5c5c" stroke-width="0.8" />
<text x="356.96" y="449.27" textLength="3.89" lengthAdjust="spacingAndGlyphs" font-size="6.09" font-family='"Liberation Sans", sans-serif' font-weight="normal" font-style="normal" fill="#4e4e4e" stroke="#4e4e4e" stroke-width="0.18">0</text>
<line x1="363.60" y1="458.92" x2="365.60" y2="458.92" stroke="#5c5c5c" stroke-width="0.8" />
<line x1="363.60" y1="470.68" x2="365.60" y2="470.68" stroke="#5c5c5c" stroke-width="0.8" />
<line x1="363.60" y1="482.43" x2="365.60" y2="482.43" stroke="#5c5c5c" stroke-width="0.8" />
<text x="354.65" y="484.53" textLength="6.22" lengthAdjust="spacingAndGlyphs" font-size="6.09" font-family='"Liberation Sans", sans-serif' font-weight="normal" font-style="normal" fill="#4e4e4e" stroke="#4e4e4e" stroke-width="0.18">-6</text>
<line x1="363.60" y1="494.19" x2="365.60" y2="494.19" stroke="#5c5c5c" stroke-width="0.8" />
<line x1="363.60" y1="505.94" x2="365.60" y2="505.94" stroke="#5c5c5c" stroke-width="0.8" />
<line x1="363.60" y1="517.70" x2="365.60" y2="517.70" stroke="#5c5c5c" stroke-width="0.8" />
<text x="350.84" y="519.80" textLength="10.12" lengthAdjust="spacingAndGlyphs" font-size="6.09" font-family='"Liberation Sans", sans-serif' font-weight="normal" font-style="normal" fill="#4e4e4e" stroke="#4e4e4e" stroke-width="0.18">-12</text>
<line x1="363.00" y1="518.60" x2="363.00" y2="516.60" stroke="#5c5c5c" stroke-width="0.8" />
<text x="357.67" y="526.30" textLength="10.60" lengthAdjust="spacingAndGlyphs" font-size="6.38" font-family='"Liberation Sans", sans-serif' font-weight="normal" font-style="normal" fill="#4e4e4e" stroke="#4e4e4e" stroke-width="0.18">-10</text>
<line x1="387.64" y1="518.60" x2="387.64" y2="516.60" stroke="#5c5c5c" stroke-width="0.8" />
<text x="384.36" y="526.30" textLength="6.52" lengthAdjust="spacingAndGlyphs" font-size="6.38" font-family='"Liberation Sans", sans-serif' font-weight="normal" font-style="normal" fill="#4e4e4e" stroke="#4e4e4e" stroke-width="0.18">-5</text>
<line x1="412.28" y1="518.60" x2="412.28" y2="516.60" stroke="#5c5c5c" stroke-width="0.8" />
<text x="410.23" y="526.30" textLength="4.08" lengthAdjust="spacingAndGlyphs" font-size="6.38" font-family='"Liberation Sans", sans-serif' font-weight="normal" font-style="normal" fill="#4e4e4e" stroke="#4e4e4e" stroke-width="0.18">0</text>
<line x1="436.92" y1="518.60" x2="436.92" y2="516.60" stroke="#5c5c5c" stroke-width="0.8" />
<text x="434.88" y="526.30" textLength="4.08" lengthAdjust="spacingAndGlyphs" font-size="6.38" font-family='"Liberation Sans", sans-serif' font-weight="normal" font-style="normal" fill="#4e4e4e" stroke="#4e4e4e" stroke-width="0.18">5</text>
<line x1="461.56" y1="518.60" x2="461.56" y2="516.60" stroke="#5c5c5c" stroke-width="0.8" />
<text x="457.34" y="526.30" textLength="8.16" lengthAdjust="spacingAndGlyphs" font-size="6.38" font-family='"Liberation Sans", sans-serif' font-weight="normal" font-style="normal" fill="#4e4e4e" stroke="#4e4e4e" stroke-width="0.18">10</text>
<line x1="486.20" y1="518.60" x2="486.20" y2="516.60" stroke="#5c5c5c" stroke-width="0.8" />
<text x="482.00" y="526.30" textLength="8.16" lengthAdjust="spacingAndGlyphs" font-size="6.38" font-family='"Liberation Sans", sans-serif' font-weight="normal" font-style="normal" fill="#4e4e4e" stroke="#4e4e4e" stroke-width="0.18">15</text>
<text x="392.29" y="408.80" textLength="74.34" lengthAdjust="spacingAndGlyphs" font-size="8.00" font-family='"Liberation Sans", sans-serif' font-weight="bold" font-style="normal" fill="#1a1a1a" >37 degrees Celsius</text>
<text x="407.70" y="533.10" textLength="44.26" lengthAdjust="spacingAndGlyphs" font-size="6.50" font-family='"Liberation Sans", sans-serif' font-weight="normal" font-style="normal" fill="#4a4a4a" stroke="#4a4a4a" stroke-width="0.15">PC1 (0.4591)</text>
<text transform="translate(352.94,484.20) rotate(-90)" x="-0.58" y="0" textLength="43.44" lengthAdjust="spacingAndGlyphs" font-size="6.50" font-family='"Liberation Sans", sans-serif' font-weight="normal" font-style="normal" fill="#4a4a4a" stroke="#4a4a4a" stroke-width="0.15">PC2 (0.1749)</text>
<circle cx="486.00" cy="405.00" r="1.3" fill="#b02d3a"/>
<text x="490.38" y="407.10" textLength="16.95" lengthAdjust="spacingAndGlyphs" font-size="5.90" font-family='"Liberation Sans", sans-serif' font-weight="normal" font-style="normal" fill="#4c4c4c" stroke="#4c4c4c" stroke-width="0.12">Day 0</text>
<circle cx="486.00" cy="411.08" r="1.3" fill="#ad2d3a"/>
<text x="490.38" y="413.18" textLength="29.59" lengthAdjust="spacingAndGlyphs" font-size="5.90" font-family='"Liberation Sans", sans-serif' font-weight="normal" font-style="normal" fill="#4c4c4c" stroke="#4c4c4c" stroke-width="0.12">Day 0.125</text>
<circle cx="486.00" cy="417.16" r="1.3" fill="#a72d3c"/>
<text x="490.38" y="419.26" textLength="22.37" lengthAdjust="spacingAndGlyphs" font-size="5.90" font-family='"Liberation Sans", sans-serif' font-weight="normal" font-style="normal" fill="#4c4c4c" stroke="#4c4c4c" stroke-width="0.12">Day 0.4</text>
<circle cx="486.00" cy="423.24" r="1.3" fill="#8e3244"/>
<text x="490.38" y="425.34" textLength="16.95" lengthAdjust="spacingAndGlyphs" font-size="5.90" font-family='"Liberation Sans", sans-serif' font-weight="normal" font-style="normal" fill="#4c4c4c" stroke="#4c4c4c" stroke-width="0.12">Day 1</text>
<circle cx="486.00" cy="429.32" r="1.3" fill="#7f4352"/>
<text x="490.38" y="431.42" textLength="29.59" lengthAdjust="spacingAndGlyphs" font-size="5.90" font-family='"Liberation Sans", sans-serif' font-weight="normal" font-style="normal" fill="#4c4c4c" stroke="#4c4c4c" stroke-width="0.12">Day 1.375</text>
<circle cx="486.00" cy="435.40" r="1.3" fill="#6f5660"/>
<text x="490.38" y="437.50" textLength="29.59" lengthAdjust="spacingAndGlyphs" font-size="5.90" font-family='"Liberation Sans", sans-serif' font-weight="normal" font-style="normal" fill="#4c4c4c" stroke="#4c4c4c" stroke-width="0.12">Day 1.875</text>
<circle cx="486.00" cy="441.48" r="1.3" fill="#6c5f67"/>
<text x="490.38" y="443.58" textLength="25.98" lengthAdjust="spacingAndGlyphs" font-size="5.90" font-family='"Liberation Sans", sans-serif' font-weight="normal" font-style="normal" fill="#4c4c4c" stroke="#4c4c4c" stroke-width="0.12">Day 2.25</text>
<circle cx="486.00" cy="447.56" r="1.3" fill="#6d6d6e"/>
<text x="490.38" y="449.66" textLength="29.59" lengthAdjust="spacingAndGlyphs" font-size="5.90" font-family='"Liberation Sans", sans-serif' font-weight="normal" font-style="normal" fill="#4c4c4c" stroke="#4c4c4c" stroke-width="0.12">Day 2.875</text>
<circle cx="486.00" cy="453.64" r="1.3" fill="#488e94"/>
<text x="490.38" y="455.74" textLength="16.95" lengthAdjust="spacingAndGlyphs" font-size="5.90" font-family='"Liberation Sans", sans-serif' font-weight="normal" font-style="normal" fill="#4c4c4c" stroke="#4c4c4c" stroke-width="0.12">Day 4</text>
<circle cx="486.00" cy="459.72" r="1.3" fill="#78b0bd"/>
<text x="490.38" y="461.82" textLength="16.95" lengthAdjust="spacingAndGlyphs" font-size="5.90" font-family='"Liberation Sans", sans-serif' font-weight="normal" font-style="normal" fill="#4c4c4c" stroke="#4c4c4c" stroke-width="0.12">Day 7</text>
<circle cx="381.50" cy="495.30" r="1.2" fill="#b02d3a"/>
<circle cx="390.00" cy="504.00" r="1.2" fill="#b02d3a"/>
<circle cx="392.30" cy="511.50" r="1.2" fill="#b02d3a"/>
<path d="M382.60 495.30H389.00M385.80 492.10V498.50" stroke="#d02c3c" stroke-width="1.0" fill="none"/>
<circle cx="371.10" cy="450.30" r="1.2" fill="#ad2d3a"/>
<circle cx="370.20" cy="459.80" r="1.2" fill="#ad2d3a"/>
<path d="M371.10 468.90H377.50M374.30 465.70V472.10" stroke="#cc2c3d" stroke-width="1.0" fill="none"/>
<circle cx="377.30" cy="439.00" r="1.2" fill="#a72d3c"/>
<circle cx="373.60" cy="445.60" r="1.2" fill="#a72d3c"/>
<circle cx="371.50" cy="439.60" r="1.2" fill="#a72d3c"/>
<path d="M369.50 440.80H375.90M372.70 437.60V444.00" stroke="#c42c3e" stroke-width="1.0" fill="none"/>
<circle cx="386.80" cy="423.50" r="1.2" fill="#8e3244"/>
<circle cx="389.80" cy="432.50" r="1.2" fill="#8e3244"/>
<path d="M385.10 427.50H391.50M388.30 424.30V430.70" stroke="#a53248" stroke-width="1.0" fill="none"/>
<circle cx="396.70" cy="416.30" r="1.2" fill="#774c59"/>
<circle cx="404.40" cy="429.80" r="1.2" fill="#774c59"/>
<circle cx="403.80" cy="424.60" r="1.2" fill="#774c59"/>
<path d="M398.90 424.00H405.30M402.10 420.80V427.20" stroke="#885263" stroke-width="1.0" fill="none"/>
<circle cx="414.30" cy="422.20" r="1.2" fill="#6c656a"/>
<circle cx="417.70" cy="433.50" r="1.2" fill="#6c656a"/>
<path d="M412.20 427.80H418.60M415.40 424.60V431.00" stroke="#7b7178" stroke-width="1.0" fill="none"/>
<circle cx="426.20" cy="426.50" r="1.2" fill="#587a7c"/>
<circle cx="428.20" cy="429.60" r="1.2" fill="#587a7c"/>
<circle cx="425.10" cy="436.50" r="1.2" fill="#587a7c"/>
<path d="M423.00 430.40H429.40M426.20 427.20V433.60" stroke="#628c8e" stroke-width="1.0" fill="none"/>
<circle cx="438.00" cy="435.80" r="1.2" fill="#4d888d"/>
<circle cx="444.20" cy="436.50" r="1.2" fill="#4d888d"/>
<circle cx="438.50" cy="446.80" r="1.2" fill="#4d888d"/>
<path d="M436.80 439.60H443.20M440.00 436.40V442.80" stroke="#549ea3" stroke-width="1.0" fill="none"/>
<circle cx="446.20" cy="448.40" r="1.2" fill="#4e9299"/>
<circle cx="451.80" cy="448.80" r="1.2" fill="#4e9299"/>
<circle cx="445.10" cy="461.90" r="1.2" fill="#4e9299"/>
<path d="M443.70 452.70H450.10M446.90 449.50V455.90" stroke="#56aab2" stroke-width="1.0" fill="none"/>
<circle cx="470.80" cy="457.60" r="1.2" fill="#78b0bd"/>
<circle cx="474.30" cy="462.70" r="1.2" fill="#78b0bd"/>
<circle cx="471.80" cy="481.90" r="1.2" fill="#78b0bd"/>
<path d="M468.30 467.30H474.70M471.50 464.10V470.50" stroke="#8ad0e0" stroke-width="1.0" fill="none"/>
</svg></body></html>
